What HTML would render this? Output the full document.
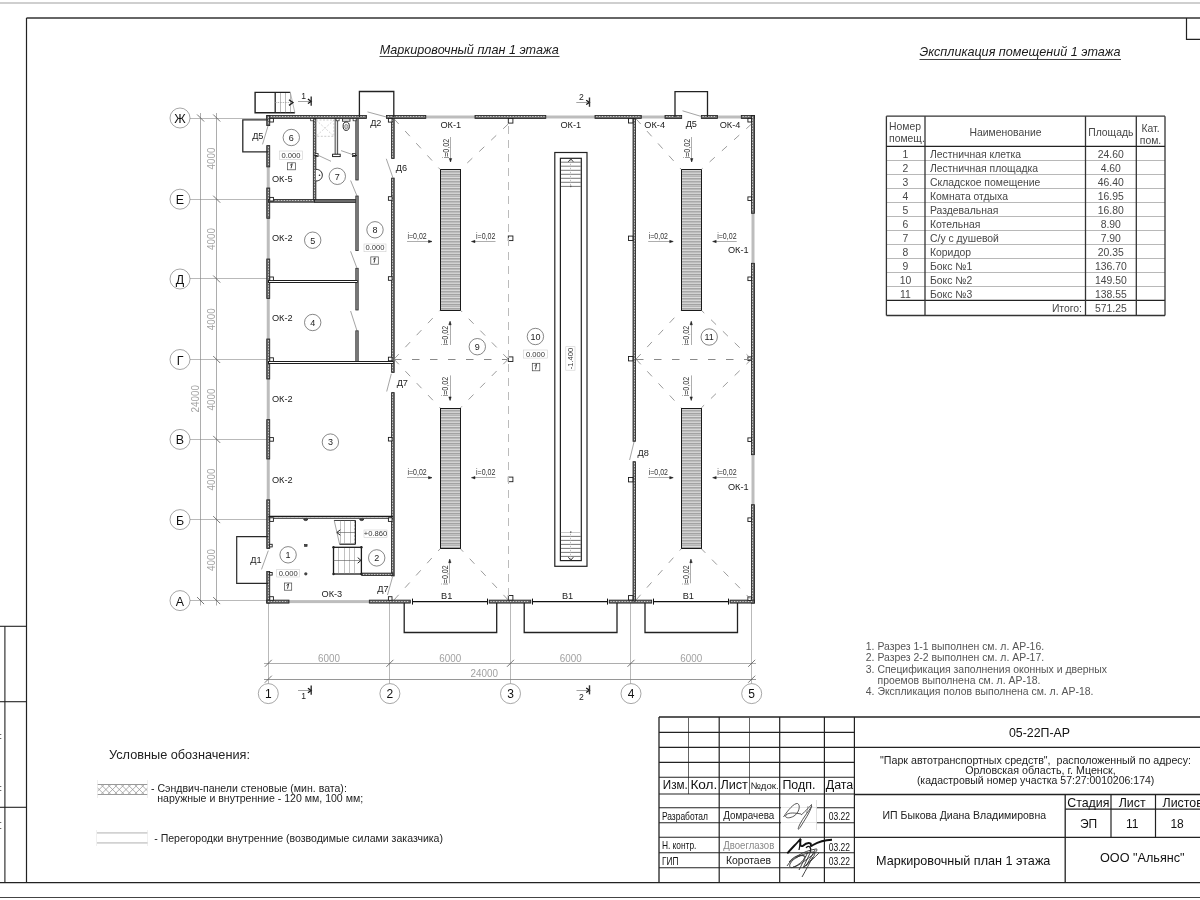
<!DOCTYPE html>
<html><head><meta charset="utf-8"><style>
html,body{margin:0;padding:0;background:#fff;width:1200px;height:900px;overflow:hidden}
svg{display:block;filter:grayscale(1)}
text{font-family:"Liberation Sans",sans-serif}
</style></head><body>
<svg width="1200" height="900" viewBox="0 0 1200 900">
<line x1="0" y1="3" x2="1200" y2="3" stroke="#a0a0a0" stroke-width="1.2" />
<line x1="26.5" y1="18" x2="1200" y2="18" stroke="#333" stroke-width="1.3" />
<line x1="26.5" y1="18" x2="26.5" y2="883" stroke="#222" stroke-width="1.2" />
<line x1="0" y1="882.7" x2="1200" y2="882.7" stroke="#222" stroke-width="1.3" />
<line x1="0" y1="897.5" x2="1200" y2="897.5" stroke="#444" stroke-width="1" />
<path d="M1186.5 18 V39.3 H1200" stroke="#222" stroke-width="1.2" fill="none" />
<line x1="0" y1="626.3" x2="26.5" y2="626.3" stroke="#222" stroke-width="1.1" />
<line x1="0" y1="701.7" x2="26.5" y2="701.7" stroke="#222" stroke-width="1.1" />
<line x1="0" y1="807.3" x2="26.5" y2="807.3" stroke="#222" stroke-width="1.1" />
<line x1="4.9" y1="626.3" x2="4.9" y2="883" stroke="#222" stroke-width="1.1" />
<line x1="0" y1="734.5" x2="1.3" y2="734.5" stroke="#444" stroke-width="0.8" />
<line x1="0" y1="738.5" x2="1.3" y2="738.5" stroke="#444" stroke-width="0.8" />
<line x1="0" y1="786.5" x2="1.3" y2="786.5" stroke="#444" stroke-width="0.8" />
<line x1="0" y1="790.5" x2="1.3" y2="790.5" stroke="#444" stroke-width="0.8" />
<line x1="0" y1="822.5" x2="1.3" y2="822.5" stroke="#444" stroke-width="0.8" />
<line x1="0" y1="828.5" x2="1.3" y2="828.5" stroke="#444" stroke-width="0.8" />
<g font-style="italic">
<text x="379.7" y="54" font-size="12.6" fill="#1a1a1a" text-anchor="start" textLength="179" lengthAdjust="spacingAndGlyphs" >Маркировочный план 1 этажа</text>
<text x="919.5" y="56.3" font-size="12.6" fill="#1a1a1a" text-anchor="start" textLength="201" lengthAdjust="spacingAndGlyphs" >Экспликация помещений 1 этажа</text>
</g>
<line x1="379.5" y1="56.5" x2="559.5" y2="56.5" stroke="#444" stroke-width="1" />
<line x1="919.5" y1="59.5" x2="1121" y2="59.5" stroke="#444" stroke-width="1" />
<line x1="886.4" y1="160.5" x2="1165" y2="160.5" stroke="#999" stroke-width="0.7" />
<line x1="886.4" y1="174.5" x2="1165" y2="174.5" stroke="#999" stroke-width="0.7" />
<line x1="886.4" y1="188.5" x2="1165" y2="188.5" stroke="#999" stroke-width="0.7" />
<line x1="886.4" y1="202.5" x2="1165" y2="202.5" stroke="#999" stroke-width="0.7" />
<line x1="886.4" y1="216.5" x2="1165" y2="216.5" stroke="#999" stroke-width="0.7" />
<line x1="886.4" y1="230.5" x2="1165" y2="230.5" stroke="#999" stroke-width="0.7" />
<line x1="886.4" y1="244.5" x2="1165" y2="244.5" stroke="#999" stroke-width="0.7" />
<line x1="886.4" y1="258.5" x2="1165" y2="258.5" stroke="#999" stroke-width="0.7" />
<line x1="886.4" y1="272.5" x2="1165" y2="272.5" stroke="#999" stroke-width="0.7" />
<line x1="886.4" y1="286.5" x2="1165" y2="286.5" stroke="#999" stroke-width="0.7" />
<line x1="886.4" y1="300.4" x2="1165" y2="300.4" stroke="#222" stroke-width="1.3" />
<line x1="886.4" y1="116.2" x2="886.4" y2="315.5" stroke="#333" stroke-width="1.3" />
<line x1="925" y1="116.2" x2="925" y2="315.5" stroke="#333" stroke-width="1.3" />
<line x1="1085.5" y1="116.2" x2="1085.5" y2="315.5" stroke="#333" stroke-width="1.3" />
<line x1="1136.3" y1="116.2" x2="1136.3" y2="315.5" stroke="#333" stroke-width="1.3" />
<line x1="1165" y1="116.2" x2="1165" y2="315.5" stroke="#333" stroke-width="1.3" />
<line x1="886.4" y1="116.2" x2="1165" y2="116.2" stroke="#333" stroke-width="1.3" />
<line x1="886.4" y1="146.4" x2="1165" y2="146.4" stroke="#222" stroke-width="1.4" />
<line x1="886.4" y1="315.5" x2="1165" y2="315.5" stroke="#333" stroke-width="1.3" />
<text x="889" y="130" font-size="10.4" fill="#474747" text-anchor="start" >Номер</text>
<text x="889" y="141.6" font-size="10.4" fill="#474747" text-anchor="start" >помещ.</text>
<text x="1005.5" y="135.5" font-size="10.4" fill="#474747" text-anchor="middle" >Наименование</text>
<text x="1110.8" y="135.6" font-size="10.4" fill="#474747" text-anchor="middle" >Площадь</text>
<text x="1150.5" y="132.3" font-size="10.4" fill="#474747" text-anchor="middle" >Кат.</text>
<text x="1150.5" y="143.5" font-size="10.4" fill="#474747" text-anchor="middle" >пом.</text>
<text x="905.5" y="157.9" font-size="10.4" fill="#474747" text-anchor="middle" >1</text>
<text x="930" y="157.9" font-size="10.4" fill="#474747" text-anchor="start" >Лестничная клетка</text>
<text x="1110.8" y="157.9" font-size="10.4" fill="#474747" text-anchor="middle" >24.60</text>
<text x="905.5" y="171.9" font-size="10.4" fill="#474747" text-anchor="middle" >2</text>
<text x="930" y="171.9" font-size="10.4" fill="#474747" text-anchor="start" >Лестничная площадка</text>
<text x="1110.8" y="171.9" font-size="10.4" fill="#474747" text-anchor="middle" >4.60</text>
<text x="905.5" y="185.9" font-size="10.4" fill="#474747" text-anchor="middle" >3</text>
<text x="930" y="185.9" font-size="10.4" fill="#474747" text-anchor="start" >Складское помещение</text>
<text x="1110.8" y="185.9" font-size="10.4" fill="#474747" text-anchor="middle" >46.40</text>
<text x="905.5" y="199.9" font-size="10.4" fill="#474747" text-anchor="middle" >4</text>
<text x="930" y="199.9" font-size="10.4" fill="#474747" text-anchor="start" >Комната отдыха</text>
<text x="1110.8" y="199.9" font-size="10.4" fill="#474747" text-anchor="middle" >16.95</text>
<text x="905.5" y="213.9" font-size="10.4" fill="#474747" text-anchor="middle" >5</text>
<text x="930" y="213.9" font-size="10.4" fill="#474747" text-anchor="start" >Раздевальная</text>
<text x="1110.8" y="213.9" font-size="10.4" fill="#474747" text-anchor="middle" >16.80</text>
<text x="905.5" y="227.9" font-size="10.4" fill="#474747" text-anchor="middle" >6</text>
<text x="930" y="227.9" font-size="10.4" fill="#474747" text-anchor="start" >Котельная</text>
<text x="1110.8" y="227.9" font-size="10.4" fill="#474747" text-anchor="middle" >8.90</text>
<text x="905.5" y="241.9" font-size="10.4" fill="#474747" text-anchor="middle" >7</text>
<text x="930" y="241.9" font-size="10.4" fill="#474747" text-anchor="start" >С/у с душевой</text>
<text x="1110.8" y="241.9" font-size="10.4" fill="#474747" text-anchor="middle" >7.90</text>
<text x="905.5" y="255.9" font-size="10.4" fill="#474747" text-anchor="middle" >8</text>
<text x="930" y="255.9" font-size="10.4" fill="#474747" text-anchor="start" >Коридор</text>
<text x="1110.8" y="255.9" font-size="10.4" fill="#474747" text-anchor="middle" >20.35</text>
<text x="905.5" y="269.9" font-size="10.4" fill="#474747" text-anchor="middle" >9</text>
<text x="930" y="269.9" font-size="10.4" fill="#474747" text-anchor="start" >Бокс №1</text>
<text x="1110.8" y="269.9" font-size="10.4" fill="#474747" text-anchor="middle" >136.70</text>
<text x="905.5" y="283.9" font-size="10.4" fill="#474747" text-anchor="middle" >10</text>
<text x="930" y="283.9" font-size="10.4" fill="#474747" text-anchor="start" >Бокс №2</text>
<text x="1110.8" y="283.9" font-size="10.4" fill="#474747" text-anchor="middle" >149.50</text>
<text x="905.5" y="297.9" font-size="10.4" fill="#474747" text-anchor="middle" >11</text>
<text x="930" y="297.9" font-size="10.4" fill="#474747" text-anchor="start" >Бокс №3</text>
<text x="1110.8" y="297.9" font-size="10.4" fill="#474747" text-anchor="middle" >138.55</text>
<text x="1082" y="311.5" font-size="10.4" fill="#474747" text-anchor="end" >Итого:</text>
<text x="1110.8" y="311.5" font-size="10.4" fill="#474747" text-anchor="middle" >571.25</text>
<text x="865.8" y="650.3" font-size="10.45" fill="#555" text-anchor="start" >1. Разрез 1-1 выполнен см. л. АР-16.</text>
<text x="865.8" y="661.2" font-size="10.45" fill="#555" text-anchor="start" >2. Разрез 2-2 выполнен см. л. АР-17.</text>
<text x="865.8" y="672.8" font-size="10.45" fill="#555" text-anchor="start" >3. Спецификация заполнения оконных и дверных</text>
<text x="877.5" y="684" font-size="10.45" fill="#555" text-anchor="start" >проемов выполнена см. л. АР-18.</text>
<text x="865.8" y="695" font-size="10.45" fill="#555" text-anchor="start" >4. Экспликация полов выполнена см. л. АР-18.</text>
<text x="109" y="759" font-size="12.73" fill="#222" text-anchor="start" >Условные обозначения:</text>
<defs><clipPath id="sw"><rect x="97.5" y="784.5" width="50" height="10"/></clipPath></defs>
<path d="M87.50 784.5 L97.50 794.5 M97.50 784.5 L87.50 794.5 M94.20 784.5 L104.20 794.5 M104.20 784.5 L94.20 794.5 M100.90 784.5 L110.90 794.5 M110.90 784.5 L100.90 794.5 M107.60 784.5 L117.60 794.5 M117.60 784.5 L107.60 794.5 M114.30 784.5 L124.30 794.5 M124.30 784.5 L114.30 794.5 M121.00 784.5 L131.00 794.5 M131.00 784.5 L121.00 794.5 M127.70 784.5 L137.70 794.5 M137.70 784.5 L127.70 794.5 M134.40 784.5 L144.40 794.5 M144.40 784.5 L134.40 794.5 M141.10 784.5 L151.10 794.5 M151.10 784.5 L141.10 794.5 M147.80 784.5 L157.80 794.5 M157.80 784.5 L147.80 794.5 " stroke="#8a8a8a" stroke-width="0.7" fill="none" clip-path="url(#sw)"/>
<line x1="97.5" y1="784.5" x2="147.5" y2="784.5" stroke="#999" stroke-width="1" />
<line x1="97.5" y1="794.5" x2="147.5" y2="794.5" stroke="#999" stroke-width="1" />
<line x1="97.5" y1="780" x2="97.5" y2="798" stroke="#e2e2e2" stroke-width="0.6" />
<line x1="147.5" y1="780" x2="147.5" y2="798" stroke="#e2e2e2" stroke-width="0.6" />
<text x="151" y="791.5" font-size="10.55" fill="#222" text-anchor="start" >- Сэндвич-панели стеновые (мин. вата):</text>
<text x="157.3" y="801.6" font-size="10.55" fill="#222" text-anchor="start" >наружные и внутренние - 120 мм, 100 мм;</text>
<line x1="97" y1="832.9" x2="147.6" y2="832.9" stroke="#d2d2d2" stroke-width="1.8" />
<line x1="96.5" y1="830" x2="96.5" y2="846" stroke="#e6e6e6" stroke-width="0.6" />
<line x1="147.5" y1="830" x2="147.5" y2="846" stroke="#e6e6e6" stroke-width="0.6" />
<line x1="97" y1="842.9" x2="147.6" y2="842.9" stroke="#d2d2d2" stroke-width="1.8" />
<text x="154.2" y="841.5" font-size="10.55" fill="#222" text-anchor="start" >- Перегородки внутренние (возводимые силами заказчика)</text>
<line x1="659" y1="717" x2="1200" y2="717" stroke="#222" stroke-width="1.3" />
<line x1="659" y1="717" x2="659" y2="882.7" stroke="#222" stroke-width="1.3" />
<line x1="719.2" y1="717" x2="719.2" y2="882.7" stroke="#222" stroke-width="1.2" />
<line x1="779.7" y1="717" x2="779.7" y2="882.7" stroke="#222" stroke-width="1.2" />
<line x1="824.4" y1="717" x2="824.4" y2="882.7" stroke="#222" stroke-width="1.2" />
<line x1="854.4" y1="717" x2="854.4" y2="882.7" stroke="#222" stroke-width="1.2" />
<line x1="688.5" y1="717" x2="688.5" y2="794" stroke="#555" stroke-width="0.9" />
<line x1="749.5" y1="717" x2="749.5" y2="794" stroke="#555" stroke-width="0.9" />
<line x1="659" y1="732.4" x2="854.4" y2="732.4" stroke="#222" stroke-width="1.1" />
<line x1="659" y1="747.4" x2="854.4" y2="747.4" stroke="#222" stroke-width="1.1" />
<line x1="659" y1="762.4" x2="854.4" y2="762.4" stroke="#222" stroke-width="1.1" />
<line x1="659" y1="777.3" x2="854.4" y2="777.3" stroke="#222" stroke-width="1.1" />
<line x1="659" y1="794" x2="854.4" y2="794" stroke="#222" stroke-width="1.1" />
<line x1="659" y1="837.3" x2="854.4" y2="837.3" stroke="#222" stroke-width="1.1" />
<line x1="659" y1="852.7" x2="854.4" y2="852.7" stroke="#222" stroke-width="1.1" />
<line x1="659" y1="867.7" x2="854.4" y2="867.7" stroke="#222" stroke-width="1.1" />
<line x1="659" y1="807.7" x2="781" y2="807.7" stroke="#222" stroke-width="1.1" />
<line x1="816.5" y1="807.7" x2="854.4" y2="807.7" stroke="#222" stroke-width="1.1" />
<line x1="659" y1="822.7" x2="781" y2="822.7" stroke="#222" stroke-width="1.1" />
<line x1="816.5" y1="822.7" x2="854.4" y2="822.7" stroke="#222" stroke-width="1.1" />
<line x1="854.4" y1="747.3" x2="1200" y2="747.3" stroke="#222" stroke-width="1.3" />
<line x1="854.4" y1="794.5" x2="1200" y2="794.5" stroke="#222" stroke-width="1.3" />
<line x1="854.4" y1="837.4" x2="1200" y2="837.4" stroke="#222" stroke-width="1.3" />
<line x1="1065.2" y1="794.5" x2="1065.2" y2="882.7" stroke="#222" stroke-width="1.3" />
<line x1="1065.2" y1="809.1" x2="1200" y2="809.1" stroke="#222" stroke-width="1.2" />
<line x1="1111" y1="794.5" x2="1111" y2="837.4" stroke="#222" stroke-width="1.2" />
<line x1="1155.5" y1="794.5" x2="1155.5" y2="837.4" stroke="#222" stroke-width="1.2" />
<text x="662.8" y="788.8" font-size="12" fill="#111" text-anchor="start" textLength="25" lengthAdjust="spacingAndGlyphs" >Изм.</text>
<text x="690.4" y="788.8" font-size="12" fill="#111" text-anchor="start" textLength="27" lengthAdjust="spacingAndGlyphs" >Кол.</text>
<text x="720.4" y="788.8" font-size="12" fill="#111" text-anchor="start" textLength="27.5" lengthAdjust="spacingAndGlyphs" >Лист</text>
<text x="750.4" y="789" font-size="9.5" fill="#111" text-anchor="start" textLength="28.3" lengthAdjust="spacingAndGlyphs" >№док.</text>
<text x="782.4" y="788.7" font-size="12" fill="#111" text-anchor="start" textLength="33" lengthAdjust="spacingAndGlyphs" >Подп.</text>
<text x="825.7" y="788.7" font-size="12" fill="#111" text-anchor="start" textLength="27.6" lengthAdjust="spacingAndGlyphs" >Дата</text>
<text x="661.9" y="819.5" font-size="10.8" fill="#111" text-anchor="start" textLength="46" lengthAdjust="spacingAndGlyphs" >Разработал</text>
<text x="723.3" y="819" font-size="10" fill="#222" text-anchor="start" textLength="51" lengthAdjust="spacingAndGlyphs" >Домрачева</text>
<text x="661.9" y="848.8" font-size="10.8" fill="#111" text-anchor="start" textLength="34.5" lengthAdjust="spacingAndGlyphs" >Н. контр.</text>
<text x="723.3" y="848.7" font-size="10" fill="#888" text-anchor="start" textLength="51" lengthAdjust="spacingAndGlyphs" >Двоеглазов</text>
<text x="661.9" y="864.7" font-size="10.8" fill="#111" text-anchor="start" textLength="16.5" lengthAdjust="spacingAndGlyphs" >ГИП</text>
<text x="726" y="864.2" font-size="10.5" fill="#222" text-anchor="start" textLength="45" lengthAdjust="spacingAndGlyphs" >Коротаев</text>
<text x="828.7" y="820.4" font-size="10.4" fill="#111" text-anchor="start" textLength="21.3" lengthAdjust="spacingAndGlyphs" >03.22</text>
<text x="828.7" y="850.7" font-size="10.4" fill="#111" text-anchor="start" textLength="21.3" lengthAdjust="spacingAndGlyphs" >03.22</text>
<text x="828.7" y="865.3" font-size="10.4" fill="#111" text-anchor="start" textLength="21.3" lengthAdjust="spacingAndGlyphs" >03.22</text>
<text x="1039.5" y="736.8" font-size="12.35" fill="#111" text-anchor="middle" >05-22П-АР</text>
<text x="1035.5" y="764" font-size="10.66" fill="#222" text-anchor="middle" >"Парк автотранспортных средств",&#160; расположенный по адресу:</text>
<text x="1040.5" y="774.1" font-size="10.7" fill="#222" text-anchor="middle" >Орловская область, г. Мценск,</text>
<text x="1035.6" y="784.3" font-size="10.5" fill="#222" text-anchor="middle" >(кадастровый номер участка 57:27:0010206:174)</text>
<text x="964.3" y="819.3" font-size="10.5" fill="#222" text-anchor="middle" >ИП Быкова Диана Владимировна</text>
<text x="1067.2" y="807" font-size="12.4" fill="#111" text-anchor="start" >Стадия</text>
<text x="1132.2" y="807" font-size="12.4" fill="#111" text-anchor="middle" >Лист</text>
<text x="1162.5" y="807" font-size="12.4" fill="#111" text-anchor="start" >Листов</text>
<text x="1088.5" y="827.5" font-size="12" fill="#111" text-anchor="middle" >ЭП</text>
<text x="1132.2" y="827.5" font-size="12" fill="#111" text-anchor="middle" >11</text>
<text x="1177.1" y="827.5" font-size="12" fill="#111" text-anchor="middle" >18</text>
<text x="963.2" y="864.5" font-size="12.64" fill="#111" text-anchor="middle" >Маркировочный план 1 этажа</text>
<text x="1142.3" y="862.2" font-size="12.67" fill="#111" text-anchor="middle" >ООО "Альянс"</text>
<line x1="781" y1="807.5" x2="816.5" y2="807.5" stroke="#e0e0e0" stroke-width="0.8" />
<line x1="781" y1="822.5" x2="816.5" y2="822.5" stroke="#e0e0e0" stroke-width="0.8" />
<line x1="816.5" y1="800" x2="816.5" y2="830" stroke="#d8d8d8" stroke-width="0.8" />
<path d="M783.5 817 C 788 810, 794 803, 797.5 803.5 C 801 805, 799 813, 794 816 C 789 819, 784 818, 786 815 C 789 812, 796 813, 801 814" stroke="#444" stroke-width="0.9" fill="none" />
<path d="M801 815 C 806 811, 810 806, 811.5 804.5 C 812 809, 806 818, 801 826 C 798 831, 797 830, 800 824 C 803 818, 808 812, 812 806" stroke="#444" stroke-width="0.9" fill="none" />
<path d="M808 806 L 806.5 813" stroke="#666" stroke-width="0.6" fill="none" />
<path d="M787.3 853.3 C 792 848, 797 843, 800 839.5 C 801 843, 799 847, 802.7 846 C 806 843, 808 842, 810.7 843.5 C 811 846, 810 847, 813 845 C 818 842, 826 840, 832 839.8" stroke="#111" stroke-width="1.9" fill="none" />
<path d="M801 839 L 799 850 M 806 848 C 809 844, 812 848, 810 852" stroke="#111" stroke-width="1.2" fill="none" />
<path d="M787 866 C 792 858, 803 851, 816 849 C 820 849, 812 856, 803 862 C 795 868, 788 870, 790 864 C 793 857, 806 853, 813 852 C 818 852, 812 860, 805 866 C 800 871, 810 862, 819 853 M 813 857 C 810 862, 806 870, 802 877 M 796 858 C 800 855, 804 855, 806 857 M789 862 C 794 856, 800 854, 804 856 C 807 858, 798 866, 793 867 M 808 852 L 799 870 M 811 851 L 803 868 M 815 850 L 806 866" stroke="#333" stroke-width="0.9" fill="none" />
<line x1="190" y1="118.5" x2="268" y2="118.5" stroke="#8a8a8a" stroke-width="0.6" />
<circle cx="180" cy="118.0" r="10" stroke="#777" stroke-width="0.65" fill="none"/>
<text x="180" y="123.0" font-size="12.4" fill="#111" text-anchor="middle" >Ж</text>
<line x1="190" y1="199.5" x2="268" y2="199.5" stroke="#8a8a8a" stroke-width="0.6" />
<circle cx="180" cy="199.2" r="10" stroke="#777" stroke-width="0.65" fill="none"/>
<text x="180" y="204.2" font-size="12.4" fill="#111" text-anchor="middle" >Е</text>
<line x1="190" y1="278.5" x2="268" y2="278.5" stroke="#8a8a8a" stroke-width="0.6" />
<circle cx="180" cy="279.0" r="10" stroke="#777" stroke-width="0.65" fill="none"/>
<text x="180" y="284.0" font-size="12.4" fill="#111" text-anchor="middle" >Д</text>
<line x1="190" y1="359.5" x2="268" y2="359.5" stroke="#8a8a8a" stroke-width="0.6" />
<circle cx="180" cy="359.5" r="10" stroke="#777" stroke-width="0.65" fill="none"/>
<text x="180" y="364.5" font-size="12.4" fill="#111" text-anchor="middle" >Г</text>
<line x1="190" y1="439.5" x2="268" y2="439.5" stroke="#8a8a8a" stroke-width="0.6" />
<circle cx="180" cy="439.4" r="10" stroke="#777" stroke-width="0.65" fill="none"/>
<text x="180" y="444.4" font-size="12.4" fill="#111" text-anchor="middle" >В</text>
<line x1="190" y1="519.5" x2="268" y2="519.5" stroke="#8a8a8a" stroke-width="0.6" />
<circle cx="180" cy="519.6" r="10" stroke="#777" stroke-width="0.65" fill="none"/>
<text x="180" y="524.6" font-size="12.4" fill="#111" text-anchor="middle" >Б</text>
<line x1="190" y1="600.5" x2="268" y2="600.5" stroke="#8a8a8a" stroke-width="0.6" />
<circle cx="180" cy="600.6" r="10" stroke="#777" stroke-width="0.65" fill="none"/>
<text x="180" y="605.6" font-size="12.4" fill="#111" text-anchor="middle" >А</text>
<line x1="200.5" y1="113" x2="200.5" y2="605.5" stroke="#8a8a8a" stroke-width="0.7" />
<line x1="216.5" y1="113" x2="216.5" y2="605.5" stroke="#8a8a8a" stroke-width="0.7" />
<line x1="213.2" y1="114.5" x2="220.2" y2="121.5" stroke="#555" stroke-width="0.8" />
<line x1="213.2" y1="195.7" x2="220.2" y2="202.7" stroke="#555" stroke-width="0.8" />
<line x1="213.2" y1="275.5" x2="220.2" y2="282.5" stroke="#555" stroke-width="0.8" />
<line x1="213.2" y1="356.0" x2="220.2" y2="363.0" stroke="#555" stroke-width="0.8" />
<line x1="213.2" y1="435.9" x2="220.2" y2="442.9" stroke="#555" stroke-width="0.8" />
<line x1="213.2" y1="516.1" x2="220.2" y2="523.1" stroke="#555" stroke-width="0.8" />
<line x1="213.2" y1="597.1" x2="220.2" y2="604.1" stroke="#555" stroke-width="0.8" />
<line x1="197.1" y1="114.5" x2="204.1" y2="121.5" stroke="#555" stroke-width="0.8" />
<line x1="197.1" y1="597.1" x2="204.1" y2="604.1" stroke="#555" stroke-width="0.8" />
<text x="0" y="0" font-size="10.5" fill="#a2a2a2" text-anchor="middle" textLength="22" lengthAdjust="spacingAndGlyphs" transform="translate(215.2 158.6) rotate(-90)">4000</text>
<text x="0" y="0" font-size="10.5" fill="#a2a2a2" text-anchor="middle" textLength="22" lengthAdjust="spacingAndGlyphs" transform="translate(215.2 239.1) rotate(-90)">4000</text>
<text x="0" y="0" font-size="10.5" fill="#a2a2a2" text-anchor="middle" textLength="22" lengthAdjust="spacingAndGlyphs" transform="translate(215.2 319.2) rotate(-90)">4000</text>
<text x="0" y="0" font-size="10.5" fill="#a2a2a2" text-anchor="middle" textLength="22" lengthAdjust="spacingAndGlyphs" transform="translate(215.2 399.4) rotate(-90)">4000</text>
<text x="0" y="0" font-size="10.5" fill="#a2a2a2" text-anchor="middle" textLength="22" lengthAdjust="spacingAndGlyphs" transform="translate(215.2 479.5) rotate(-90)">4000</text>
<text x="0" y="0" font-size="10.5" fill="#a2a2a2" text-anchor="middle" textLength="22" lengthAdjust="spacingAndGlyphs" transform="translate(215.2 560.1) rotate(-90)">4000</text>
<text x="0" y="0" font-size="10.5" fill="#a2a2a2" text-anchor="middle" textLength="27.5" lengthAdjust="spacingAndGlyphs" transform="translate(199.1 398.8) rotate(-90)">24000</text>
<line x1="268.5" y1="603" x2="268.5" y2="683.5" stroke="#8a8a8a" stroke-width="0.6" />
<circle cx="268.3" cy="693.6" r="10" stroke="#777" stroke-width="0.65" fill="none"/>
<text x="268.3" y="698.4" font-size="12" fill="#111" text-anchor="middle" >1</text>
<line x1="389.5" y1="603" x2="389.5" y2="683.5" stroke="#8a8a8a" stroke-width="0.6" />
<circle cx="389.9" cy="693.6" r="10" stroke="#777" stroke-width="0.65" fill="none"/>
<text x="389.9" y="698.4" font-size="12" fill="#111" text-anchor="middle" >2</text>
<line x1="510.5" y1="603" x2="510.5" y2="683.5" stroke="#8a8a8a" stroke-width="0.6" />
<circle cx="510.5" cy="693.6" r="10" stroke="#777" stroke-width="0.65" fill="none"/>
<text x="510.5" y="698.4" font-size="12" fill="#111" text-anchor="middle" >3</text>
<line x1="630.5" y1="603" x2="630.5" y2="683.5" stroke="#8a8a8a" stroke-width="0.6" />
<circle cx="631.0" cy="693.6" r="10" stroke="#777" stroke-width="0.65" fill="none"/>
<text x="631.0" y="698.4" font-size="12" fill="#111" text-anchor="middle" >4</text>
<line x1="751.5" y1="603" x2="751.5" y2="683.5" stroke="#8a8a8a" stroke-width="0.6" />
<circle cx="751.7" cy="693.6" r="10" stroke="#777" stroke-width="0.65" fill="none"/>
<text x="751.7" y="698.4" font-size="12" fill="#111" text-anchor="middle" >5</text>
<line x1="264" y1="663.5" x2="756" y2="663.5" stroke="#8a8a8a" stroke-width="0.7" />
<line x1="264" y1="679.5" x2="756" y2="679.5" stroke="#8a8a8a" stroke-width="0.9" />
<line x1="264.8" y1="666.8" x2="271.8" y2="659.8" stroke="#555" stroke-width="0.8" />
<line x1="386.4" y1="666.8" x2="393.4" y2="659.8" stroke="#555" stroke-width="0.8" />
<line x1="507.0" y1="666.8" x2="514.0" y2="659.8" stroke="#555" stroke-width="0.8" />
<line x1="627.5" y1="666.8" x2="634.5" y2="659.8" stroke="#555" stroke-width="0.8" />
<line x1="748.2" y1="666.8" x2="755.2" y2="659.8" stroke="#555" stroke-width="0.8" />
<line x1="264.8" y1="682.7" x2="271.8" y2="675.7" stroke="#555" stroke-width="0.8" />
<line x1="748.2" y1="682.7" x2="755.2" y2="675.7" stroke="#555" stroke-width="0.8" />
<text x="329.1" y="661.7" font-size="10.5" fill="#a2a2a2" text-anchor="middle" textLength="22" lengthAdjust="spacingAndGlyphs" >6000</text>
<text x="450.2" y="661.7" font-size="10.5" fill="#a2a2a2" text-anchor="middle" textLength="22" lengthAdjust="spacingAndGlyphs" >6000</text>
<text x="570.75" y="661.7" font-size="10.5" fill="#a2a2a2" text-anchor="middle" textLength="22" lengthAdjust="spacingAndGlyphs" >6000</text>
<text x="691.35" y="661.7" font-size="10.5" fill="#a2a2a2" text-anchor="middle" textLength="22" lengthAdjust="spacingAndGlyphs" >6000</text>
<text x="484.2" y="677.3" font-size="10.5" fill="#a2a2a2" text-anchor="middle" textLength="27.5" lengthAdjust="spacingAndGlyphs" >24000</text>
<line x1="298" y1="101.5" x2="311.2" y2="101.5" stroke="#999" stroke-width="0.9" />
<path d="M307.9 99.10000000000001 L311.2 101.4 L307.9 103.5" stroke="#111" stroke-width="1.2" fill="none" />
<line x1="311.2" y1="96.4" x2="311.2" y2="105.7" stroke="#333" stroke-width="1.4" />
<text x="303.7" y="99" font-size="8.6" fill="#222" text-anchor="middle" >1</text>
<line x1="576.3" y1="102.5" x2="589.5" y2="102.5" stroke="#999" stroke-width="0.9" />
<path d="M586.2 100.2 L589.5 102.5 L586.2 104.6" stroke="#111" stroke-width="1.2" fill="none" />
<line x1="589.5" y1="97.5" x2="589.5" y2="106.8" stroke="#333" stroke-width="1.4" />
<text x="581.5" y="99.7" font-size="8.6" fill="#222" text-anchor="middle" >2</text>
<line x1="298" y1="690.5" x2="311.2" y2="690.5" stroke="#999" stroke-width="0.9" />
<path d="M307.9 688.3000000000001 L311.2 690.6 L307.9 692.7" stroke="#111" stroke-width="1.2" fill="none" />
<line x1="311.2" y1="685.6" x2="311.2" y2="694.7" stroke="#333" stroke-width="1.4" />
<text x="303.7" y="699" font-size="8.6" fill="#222" text-anchor="middle" >1</text>
<line x1="576.5" y1="690.5" x2="589.5" y2="690.5" stroke="#999" stroke-width="0.9" />
<path d="M586.2 688.0 L589.5 690.3 L586.2 692.4" stroke="#111" stroke-width="1.2" fill="none" />
<line x1="589.5" y1="685.3" x2="589.5" y2="694.4" stroke="#333" stroke-width="1.4" />
<text x="581.5" y="699.5" font-size="8.6" fill="#222" text-anchor="middle" >2</text>
<rect x="425.8" y="115.5" width="49.19999999999999" height="3" stroke="none" stroke-width="0" fill="#bdbdbd" />
<rect x="545.8" y="115.5" width="49.200000000000045" height="3" stroke="none" stroke-width="0" fill="#bdbdbd" />
<rect x="641.3" y="115.5" width="23.700000000000045" height="3" stroke="none" stroke-width="0" fill="#bdbdbd" />
<rect x="717.5" y="115.5" width="23.799999999999955" height="3" stroke="none" stroke-width="0" fill="#bdbdbd" />
<rect x="266.75" y="166.9" width="3" height="21.099999999999994" stroke="none" stroke-width="0" fill="#bdbdbd" />
<rect x="266.75" y="218.3" width="3" height="40.69999999999999" stroke="none" stroke-width="0" fill="#bdbdbd" />
<rect x="266.75" y="298.5" width="3" height="40.5" stroke="none" stroke-width="0" fill="#bdbdbd" />
<rect x="266.75" y="379" width="3" height="40.60000000000002" stroke="none" stroke-width="0" fill="#bdbdbd" />
<rect x="266.75" y="459" width="3" height="40.80000000000001" stroke="none" stroke-width="0" fill="#bdbdbd" />
<rect x="751.5" y="213.3" width="3" height="50.0" stroke="none" stroke-width="0" fill="#bdbdbd" />
<rect x="751.5" y="454.7" width="3" height="50.0" stroke="none" stroke-width="0" fill="#bdbdbd" />
<rect x="289" y="600.1" width="80.39999999999998" height="3" stroke="none" stroke-width="0" fill="#bdbdbd" />
<rect x="266.8" y="115.5" width="99.69999999999999" height="3.0" stroke="#1e1e1e" stroke-width="0.8" fill="#6a6a6a" />
<line x1="268.0" y1="116.5" x2="365.3" y2="116.5" stroke="#e8e8e8" stroke-width="0.8" stroke-dasharray="1.3 1.5"/>
<rect x="386.5" y="115.5" width="39.30000000000001" height="3.0" stroke="#1e1e1e" stroke-width="0.8" fill="#6a6a6a" />
<line x1="387.7" y1="116.5" x2="424.6" y2="116.5" stroke="#e8e8e8" stroke-width="0.8" stroke-dasharray="1.3 1.5"/>
<rect x="475" y="115.5" width="70.79999999999995" height="3.0" stroke="#1e1e1e" stroke-width="0.8" fill="#6a6a6a" />
<line x1="476.2" y1="116.5" x2="544.5999999999999" y2="116.5" stroke="#e8e8e8" stroke-width="0.8" stroke-dasharray="1.3 1.5"/>
<rect x="595" y="115.5" width="46.299999999999955" height="3.0" stroke="#1e1e1e" stroke-width="0.8" fill="#6a6a6a" />
<line x1="596.2" y1="116.5" x2="640.0999999999999" y2="116.5" stroke="#e8e8e8" stroke-width="0.8" stroke-dasharray="1.3 1.5"/>
<rect x="665" y="115.5" width="16.700000000000045" height="3.0" stroke="#1e1e1e" stroke-width="0.8" fill="#6a6a6a" />
<line x1="666.2" y1="116.5" x2="680.5" y2="116.5" stroke="#e8e8e8" stroke-width="0.8" stroke-dasharray="1.3 1.5"/>
<rect x="701.3" y="115.5" width="16.200000000000045" height="3.0" stroke="#1e1e1e" stroke-width="0.8" fill="#6a6a6a" />
<line x1="702.5" y1="116.5" x2="716.3" y2="116.5" stroke="#e8e8e8" stroke-width="0.8" stroke-dasharray="1.3 1.5"/>
<rect x="741.3" y="115.5" width="13.200000000000045" height="3.0" stroke="#1e1e1e" stroke-width="0.8" fill="#6a6a6a" />
<line x1="742.5" y1="116.5" x2="753.3" y2="116.5" stroke="#e8e8e8" stroke-width="0.8" stroke-dasharray="1.3 1.5"/>
<rect x="266.75" y="115.5" width="3.0" height="10.099999999999994" stroke="#1e1e1e" stroke-width="0.8" fill="#6a6a6a" />
<line x1="268.5" y1="116.7" x2="268.5" y2="124.39999999999999" stroke="#e8e8e8" stroke-width="0.8" stroke-dasharray="1.3 1.5"/>
<rect x="266.75" y="145.6" width="3.0" height="21.30000000000001" stroke="#1e1e1e" stroke-width="0.8" fill="#6a6a6a" />
<line x1="268.5" y1="146.79999999999998" x2="268.5" y2="165.70000000000002" stroke="#e8e8e8" stroke-width="0.8" stroke-dasharray="1.3 1.5"/>
<rect x="266.75" y="188" width="3.0" height="30.30000000000001" stroke="#1e1e1e" stroke-width="0.8" fill="#6a6a6a" />
<line x1="268.5" y1="189.2" x2="268.5" y2="217.10000000000002" stroke="#e8e8e8" stroke-width="0.8" stroke-dasharray="1.3 1.5"/>
<rect x="266.75" y="259" width="3.0" height="39.5" stroke="#1e1e1e" stroke-width="0.8" fill="#6a6a6a" />
<line x1="268.5" y1="260.2" x2="268.5" y2="297.3" stroke="#e8e8e8" stroke-width="0.8" stroke-dasharray="1.3 1.5"/>
<rect x="266.75" y="339" width="3.0" height="40" stroke="#1e1e1e" stroke-width="0.8" fill="#6a6a6a" />
<line x1="268.5" y1="340.2" x2="268.5" y2="377.8" stroke="#e8e8e8" stroke-width="0.8" stroke-dasharray="1.3 1.5"/>
<rect x="266.75" y="419.6" width="3.0" height="39.39999999999998" stroke="#1e1e1e" stroke-width="0.8" fill="#6a6a6a" />
<line x1="268.5" y1="420.8" x2="268.5" y2="457.8" stroke="#e8e8e8" stroke-width="0.8" stroke-dasharray="1.3 1.5"/>
<rect x="266.75" y="499.8" width="3.0" height="48.69999999999999" stroke="#1e1e1e" stroke-width="0.8" fill="#6a6a6a" />
<line x1="268.5" y1="501.0" x2="268.5" y2="547.3" stroke="#e8e8e8" stroke-width="0.8" stroke-dasharray="1.3 1.5"/>
<rect x="266.75" y="571.5" width="3.0" height="31.600000000000023" stroke="#1e1e1e" stroke-width="0.8" fill="#6a6a6a" />
<line x1="268.5" y1="572.7" x2="268.5" y2="601.9" stroke="#e8e8e8" stroke-width="0.8" stroke-dasharray="1.3 1.5"/>
<rect x="751.5" y="115.5" width="3.0" height="97.80000000000001" stroke="#1e1e1e" stroke-width="0.8" fill="#6a6a6a" />
<line x1="752.5" y1="116.7" x2="752.5" y2="212.10000000000002" stroke="#e8e8e8" stroke-width="0.8" stroke-dasharray="1.3 1.5"/>
<rect x="751.5" y="263.3" width="3.0" height="191.39999999999998" stroke="#1e1e1e" stroke-width="0.8" fill="#6a6a6a" />
<line x1="752.5" y1="264.5" x2="752.5" y2="453.5" stroke="#e8e8e8" stroke-width="0.8" stroke-dasharray="1.3 1.5"/>
<rect x="751.5" y="504.7" width="3.0" height="98.40000000000003" stroke="#1e1e1e" stroke-width="0.8" fill="#6a6a6a" />
<line x1="752.5" y1="505.9" x2="752.5" y2="601.9" stroke="#e8e8e8" stroke-width="0.8" stroke-dasharray="1.3 1.5"/>
<rect x="266.8" y="600.1" width="22.19999999999999" height="3.0" stroke="#1e1e1e" stroke-width="0.8" fill="#6a6a6a" />
<line x1="268.0" y1="601.5" x2="287.8" y2="601.5" stroke="#e8e8e8" stroke-width="0.8" stroke-dasharray="1.3 1.5"/>
<rect x="369.3" y="600.1" width="41.0" height="3.0" stroke="#1e1e1e" stroke-width="0.8" fill="#6a6a6a" />
<line x1="370.5" y1="601.5" x2="409.1" y2="601.5" stroke="#e8e8e8" stroke-width="0.8" stroke-dasharray="1.3 1.5"/>
<rect x="489.2" y="600.1" width="41.599999999999966" height="3.0" stroke="#1e1e1e" stroke-width="0.8" fill="#6a6a6a" />
<line x1="490.4" y1="601.5" x2="529.5999999999999" y2="601.5" stroke="#e8e8e8" stroke-width="0.8" stroke-dasharray="1.3 1.5"/>
<rect x="609.2" y="600.1" width="42.5" height="3.0" stroke="#1e1e1e" stroke-width="0.8" fill="#6a6a6a" />
<line x1="610.4000000000001" y1="601.5" x2="650.5" y2="601.5" stroke="#e8e8e8" stroke-width="0.8" stroke-dasharray="1.3 1.5"/>
<rect x="730" y="600.1" width="24.5" height="3.0" stroke="#1e1e1e" stroke-width="0.8" fill="#6a6a6a" />
<line x1="731.2" y1="601.5" x2="753.3" y2="601.5" stroke="#e8e8e8" stroke-width="0.8" stroke-dasharray="1.3 1.5"/>
<line x1="412.3" y1="601.6" x2="487.2" y2="601.6" stroke="#111" stroke-width="1.4" />
<line x1="412.5" y1="598.6" x2="412.5" y2="604.6" stroke="#111" stroke-width="1.0" />
<line x1="487.5" y1="598.6" x2="487.5" y2="604.6" stroke="#111" stroke-width="1.0" />
<line x1="532.8" y1="601.6" x2="607.2" y2="601.6" stroke="#111" stroke-width="1.4" />
<line x1="532.5" y1="598.6" x2="532.5" y2="604.6" stroke="#111" stroke-width="1.0" />
<line x1="607.5" y1="598.6" x2="607.5" y2="604.6" stroke="#111" stroke-width="1.0" />
<line x1="653.7" y1="601.6" x2="728" y2="601.6" stroke="#111" stroke-width="1.4" />
<line x1="653.5" y1="598.6" x2="653.5" y2="604.6" stroke="#111" stroke-width="1.0" />
<line x1="728.5" y1="598.6" x2="728.5" y2="604.6" stroke="#111" stroke-width="1.0" />
<rect x="313.3" y="118.5" width="2.6" height="82.1" stroke="#1e1e1e" stroke-width="0.8" fill="#6a6a6a" />
<line x1="314.5" y1="119.7" x2="314.5" y2="199.4" stroke="#e8e8e8" stroke-width="0.8" stroke-dasharray="1.3 1.5"/>
<rect x="268.5" y="199.6" width="46.10000000000002" height="2.6" stroke="#1e1e1e" stroke-width="0.8" fill="#6a6a6a" />
<line x1="269.7" y1="200.5" x2="313.40000000000003" y2="200.5" stroke="#e8e8e8" stroke-width="0.8" stroke-dasharray="1.3 1.5"/>
<rect x="314.6" y="199.6" width="42.4" height="2.8" stroke="#222" stroke-width="0.8" fill="#6a6a6a" />
<rect x="391.59999999999997" y="118.5" width="2.6" height="40.0" stroke="#1e1e1e" stroke-width="0.8" fill="#6a6a6a" />
<line x1="392.5" y1="119.7" x2="392.5" y2="157.3" stroke="#e8e8e8" stroke-width="0.8" stroke-dasharray="1.3 1.5"/>
<rect x="391.59999999999997" y="178.1" width="2.6" height="194.29999999999998" stroke="#1e1e1e" stroke-width="0.8" fill="#6a6a6a" />
<line x1="392.5" y1="179.29999999999998" x2="392.5" y2="371.2" stroke="#e8e8e8" stroke-width="0.8" stroke-dasharray="1.3 1.5"/>
<rect x="391.59999999999997" y="392.6" width="2.6" height="183.39999999999998" stroke="#1e1e1e" stroke-width="0.8" fill="#6a6a6a" />
<line x1="392.5" y1="393.8" x2="392.5" y2="574.8" stroke="#e8e8e8" stroke-width="0.8" stroke-dasharray="1.3 1.5"/>
<rect x="633.0" y="118.5" width="2.6" height="322.8" stroke="#1e1e1e" stroke-width="0.8" fill="#6a6a6a" />
<line x1="634.5" y1="119.7" x2="634.5" y2="440.1" stroke="#e8e8e8" stroke-width="0.8" stroke-dasharray="1.3 1.5"/>
<rect x="633.0" y="461.7" width="2.6" height="139.3" stroke="#1e1e1e" stroke-width="0.8" fill="#6a6a6a" />
<line x1="634.5" y1="462.9" x2="634.5" y2="599.8" stroke="#e8e8e8" stroke-width="0.8" stroke-dasharray="1.3 1.5"/>
<rect x="355.8" y="118.5" width="2.4" height="61.5" stroke="#2a2a2a" stroke-width="0.8" fill="#8a8a8a" />
<rect x="355.8" y="196" width="2.4" height="54.599999999999994" stroke="#2a2a2a" stroke-width="0.8" fill="#8a8a8a" />
<rect x="355.8" y="268.3" width="2.4" height="41.69999999999999" stroke="#2a2a2a" stroke-width="0.8" fill="#8a8a8a" />
<rect x="355.8" y="330.8" width="2.4" height="31.19999999999999" stroke="#2a2a2a" stroke-width="0.8" fill="#8a8a8a" />
<rect x="335.1" y="118.5" width="2.6" height="36.5" stroke="#222" stroke-width="0.8" fill="#e0e0e0" />
<rect x="332.6" y="154.2" width="7.6" height="2.4" stroke="#111" stroke-width="0.9" fill="#fff" />
<rect x="268.5" y="280.5" width="88.5" height="2" stroke="#1e1e1e" stroke-width="1" fill="#fff" />
<rect x="268.5" y="361.5" width="124.39999999999998" height="2" stroke="#1e1e1e" stroke-width="1" fill="#fff" />
<line x1="268.5" y1="516.5" x2="392.9" y2="516.5" stroke="#1a1a1a" stroke-width="1.3" />
<line x1="268.5" y1="518.5" x2="392.9" y2="518.5" stroke="#333" stroke-width="0.8" />
<line x1="270" y1="517.5" x2="391" y2="517.5" stroke="#aaa" stroke-width="0.6" stroke-dasharray="1 3"/>
<path d="M303.7 519 A2 1.6 0 0 0 307.7 519 Z" stroke="#222" stroke-width="0.8" fill="#555" />
<path d="M359.7 519 A2 1.6 0 0 0 363.7 519 Z" stroke="#222" stroke-width="0.8" fill="#555" />
<rect x="361.7" y="573.0999999999999" width="31.19999999999999" height="2.4" stroke="#1e1e1e" stroke-width="0.8" fill="#6a6a6a" />
<line x1="362.9" y1="574.5" x2="391.7" y2="574.5" stroke="#e8e8e8" stroke-width="0.8" stroke-dasharray="1.3 1.5"/>
<path d="M334.2 520.4 H355.4 V544.2 H339.6 Z" stroke="#666" stroke-width="0.6" fill="none" />
<line x1="355.4" y1="520.4" x2="355.4" y2="544.2" stroke="#222" stroke-width="1.1" />
<line x1="339.6" y1="544.2" x2="355.4" y2="544.2" stroke="#222" stroke-width="1.1" />
<line x1="334.2" y1="520.5" x2="355.4" y2="520.5" stroke="#333" stroke-width="0.9" />
<line x1="340.5" y1="520.8" x2="340.5" y2="543.8" stroke="#999" stroke-width="0.6" />
<line x1="344.5" y1="520.8" x2="344.5" y2="543.8" stroke="#999" stroke-width="0.6" />
<line x1="350.5" y1="520.8" x2="350.5" y2="543.8" stroke="#999" stroke-width="0.6" />
<line x1="354.5" y1="521" x2="354.5" y2="544" stroke="#888" stroke-width="0.6" stroke-dasharray="2 1.5"/>
<line x1="337" y1="532.5" x2="355" y2="532.5" stroke="#555" stroke-width="0.6" />
<path d="M340.3 529.8 L336.8 532.5 L340.3 535.2" stroke="#222" stroke-width="1.0" fill="none" />
<rect x="333.5" y="547.3" width="27.9" height="26.7" stroke="#1a1a1a" stroke-width="1.3" fill="none" />
<line x1="338.5" y1="548" x2="338.5" y2="573.3" stroke="#999" stroke-width="0.6" />
<line x1="344.5" y1="548" x2="344.5" y2="573.3" stroke="#999" stroke-width="0.6" />
<line x1="349.5" y1="548" x2="349.5" y2="573.3" stroke="#999" stroke-width="0.6" />
<line x1="354.5" y1="548" x2="354.5" y2="573.3" stroke="#999" stroke-width="0.6" />
<line x1="333.5" y1="560.5" x2="361" y2="560.5" stroke="#555" stroke-width="0.6" />
<path d="M357.7 557.6 L361 560.4 L357.7 563.2" stroke="#222" stroke-width="1.0" fill="none" />
<circle cx="333.5" cy="547.3" r="1.2" fill="#222"/>
<circle cx="361.4" cy="547.3" r="1.2" fill="#222"/>
<circle cx="333.5" cy="574" r="1.2" fill="#222"/>
<circle cx="361.4" cy="574" r="1.2" fill="#222"/>
<rect x="304.5" y="544.4" width="2.6" height="2" stroke="#222" stroke-width="0.6" fill="#444" />
<circle cx="305.8" cy="573.8" r="1.6" fill="#444"/>
<rect x="269.59999999999997" y="544.3000000000001" width="2.6" height="2.6" stroke="#1a1a1a" stroke-width="0.9" fill="#fff" />
<rect x="269.59999999999997" y="572.5" width="2.6" height="2.6" stroke="#1a1a1a" stroke-width="0.9" fill="#fff" />
<rect x="316" y="120" width="18" height="16.3" stroke="#aaa" stroke-width="0.6" fill="none" stroke-dasharray="2 1.5"/>
<path d="M316 120 L334 136.3 M334 120 L316 136.3" stroke="#bbb" stroke-width="0.6" fill="none" stroke-dasharray="2 1.5"/>
<rect x="342.5" y="118.8" width="7.5" height="2.4" stroke="#222" stroke-width="0.8" fill="#fff" />
<ellipse cx="346.2" cy="126.2" rx="3.1" ry="4.2" stroke="#222" stroke-width="1" fill="#fff"/>
<ellipse cx="346.2" cy="126.6" rx="1.6" ry="2.3" stroke="#666" stroke-width="0.6" fill="#ccc"/>
<path d="M315.8 169.3 C 324.5 169.3, 324.5 181, 315.8 181" stroke="#222" stroke-width="1.0" fill="#fff" />
<circle cx="319.5" cy="175.2" r="0.8" fill="#222"/>
<rect x="315.1" y="153.6" width="3" height="3" stroke="#222" stroke-width="0.8" fill="#fff" />
<rect x="352.4" y="153.6" width="3" height="3" stroke="#222" stroke-width="0.8" fill="#fff" />
<line x1="314.6" y1="155.5" x2="317.5" y2="155.5" stroke="#222" stroke-width="1" />
<line x1="353" y1="155.5" x2="357" y2="155.5" stroke="#222" stroke-width="1" />
<rect x="310.7" y="118.6" width="3" height="2.2" stroke="#222" stroke-width="0.7" fill="#fff" />
<rect x="336.1" y="118.6" width="3" height="2.2" stroke="#222" stroke-width="0.7" fill="#fff" />
<rect x="353.1" y="118.6" width="3" height="2.2" stroke="#222" stroke-width="0.7" fill="#fff" />
<rect x="269.8" y="118.4" width="3.6" height="3.6" stroke="#1a1a1a" stroke-width="0.9" fill="#fff" />
<rect x="269.8" y="197.39999999999998" width="3.6" height="3.6" stroke="#1a1a1a" stroke-width="0.9" fill="#fff" />
<rect x="269.8" y="277.0" width="3.6" height="3.6" stroke="#1a1a1a" stroke-width="0.9" fill="#fff" />
<rect x="269.8" y="357.8" width="3.6" height="3.6" stroke="#1a1a1a" stroke-width="0.9" fill="#fff" />
<rect x="269.8" y="437.59999999999997" width="3.6" height="3.6" stroke="#1a1a1a" stroke-width="0.9" fill="#fff" />
<rect x="269.8" y="517.8000000000001" width="3.6" height="3.6" stroke="#1a1a1a" stroke-width="0.9" fill="#fff" />
<rect x="269.8" y="596.7" width="3.6" height="3.6" stroke="#1a1a1a" stroke-width="0.9" fill="#fff" />
<rect x="388.4" y="118.5" width="3.6" height="3.6" stroke="#1a1a1a" stroke-width="0.9" fill="#fff" />
<rect x="388.4" y="196.7" width="3.6" height="3.6" stroke="#1a1a1a" stroke-width="0.9" fill="#fff" />
<rect x="388.4" y="276.7" width="3.6" height="3.6" stroke="#1a1a1a" stroke-width="0.9" fill="#fff" />
<rect x="388.4" y="357.2" width="3.6" height="3.6" stroke="#1a1a1a" stroke-width="0.9" fill="#fff" />
<rect x="388.4" y="437.4" width="3.6" height="3.6" stroke="#1a1a1a" stroke-width="0.9" fill="#fff" />
<rect x="388.4" y="517.8000000000001" width="3.6" height="3.6" stroke="#1a1a1a" stroke-width="0.9" fill="#fff" />
<rect x="388.4" y="596.7" width="3.6" height="3.6" stroke="#1a1a1a" stroke-width="0.9" fill="#fff" />
<rect x="508.3" y="118.5" width="4.6" height="4.6" stroke="#1a1a1a" stroke-width="0.9" fill="#fff" />
<rect x="508.3" y="236.0" width="4.6" height="4.6" stroke="#1a1a1a" stroke-width="0.9" fill="#fff" />
<rect x="508.3" y="356.9" width="4.6" height="4.6" stroke="#1a1a1a" stroke-width="0.9" fill="#fff" />
<rect x="508.3" y="477.09999999999997" width="4.6" height="4.6" stroke="#1a1a1a" stroke-width="0.9" fill="#fff" />
<rect x="508.3" y="595.5" width="4.6" height="4.6" stroke="#1a1a1a" stroke-width="0.9" fill="#fff" />
<rect x="628.5" y="118.6" width="4.4" height="4.4" stroke="#1a1a1a" stroke-width="0.9" fill="#fff" />
<rect x="628.5" y="236.10000000000002" width="4.4" height="4.4" stroke="#1a1a1a" stroke-width="0.9" fill="#fff" />
<rect x="628.5" y="356.5" width="4.4" height="4.4" stroke="#1a1a1a" stroke-width="0.9" fill="#fff" />
<rect x="628.5" y="477.5" width="4.4" height="4.4" stroke="#1a1a1a" stroke-width="0.9" fill="#fff" />
<rect x="628.5" y="595.5999999999999" width="4.4" height="4.4" stroke="#1a1a1a" stroke-width="0.9" fill="#fff" />
<rect x="747.9000000000001" y="118.4" width="3.6" height="3.6" stroke="#1a1a1a" stroke-width="0.9" fill="#fff" />
<rect x="747.9000000000001" y="196.89999999999998" width="3.6" height="3.6" stroke="#1a1a1a" stroke-width="0.9" fill="#fff" />
<rect x="747.9000000000001" y="277.0" width="3.6" height="3.6" stroke="#1a1a1a" stroke-width="0.9" fill="#fff" />
<rect x="747.9000000000001" y="356.9" width="3.6" height="3.6" stroke="#1a1a1a" stroke-width="0.9" fill="#fff" />
<rect x="747.9000000000001" y="437.9" width="3.6" height="3.6" stroke="#1a1a1a" stroke-width="0.9" fill="#fff" />
<rect x="747.9000000000001" y="517.9000000000001" width="3.6" height="3.6" stroke="#1a1a1a" stroke-width="0.9" fill="#fff" />
<rect x="747.9000000000001" y="596.9000000000001" width="3.6" height="3.6" stroke="#1a1a1a" stroke-width="0.9" fill="#fff" />
<path d="M268 119.8 H242.8 V151.9 H268" stroke="#2a2a2a" stroke-width="1.3" fill="none" />
<path d="M359.4 117 V91.5 H393.8 V117" stroke="#222" stroke-width="1.3" fill="none" />
<path d="M675 117 V91.7 H707.5 V117" stroke="#222" stroke-width="1.3" fill="none" />
<path d="M268 536.7 H236.7 V583.3 H268" stroke="#2a2a2a" stroke-width="1.2" fill="none" />
<path d="M404.2 603 V632.5 H496.7 V603" stroke="#222" stroke-width="1.3" fill="none" />
<path d="M524.2 603 V632.5 H617 V603" stroke="#222" stroke-width="1.3" fill="none" />
<path d="M645 603 V632.5 H737.5 V603" stroke="#222" stroke-width="1.3" fill="none" />
<path d="M290.3 92.4 H255.1 V112.8 H294.9" stroke="#222" stroke-width="1.4" fill="none" />
<line x1="290.3" y1="92.4" x2="294.9" y2="112.8" stroke="#999" stroke-width="0.7" />
<line x1="275.2" y1="92.4" x2="275.2" y2="112.8" stroke="#222" stroke-width="1.3" />
<line x1="280.5" y1="93" x2="280.5" y2="112.3" stroke="#999" stroke-width="0.7" />
<line x1="285.5" y1="93" x2="285.5" y2="112.3" stroke="#999" stroke-width="0.7" />
<line x1="290.5" y1="93" x2="290.5" y2="112.3" stroke="#999" stroke-width="0.7" />
<line x1="275.2" y1="102.5" x2="291" y2="102.5" stroke="#999" stroke-width="0.7" stroke-dasharray="1.5 1"/>
<path d="M289 99.8 L293 102.6 L289 105.4" stroke="#222" stroke-width="1.3" fill="none" />
<line x1="268" y1="126" x2="262.5" y2="144.4" stroke="#666" stroke-width="0.6" />
<line x1="367.5" y1="111.9" x2="386" y2="116.9" stroke="#666" stroke-width="0.6" />
<line x1="682.5" y1="110.8" x2="700.8" y2="116.3" stroke="#666" stroke-width="0.6" />
<line x1="386.3" y1="158.8" x2="393" y2="178" stroke="#666" stroke-width="0.6" />
<line x1="341" y1="150.6" x2="353.8" y2="155" stroke="#666" stroke-width="0.6" />
<line x1="318.8" y1="155.6" x2="331" y2="161.3" stroke="#666" stroke-width="0.6" />
<line x1="350.6" y1="180.5" x2="357" y2="196" stroke="#666" stroke-width="0.6" />
<line x1="350.6" y1="251.3" x2="357" y2="268.3" stroke="#666" stroke-width="0.6" />
<line x1="350.6" y1="311" x2="357" y2="330.8" stroke="#666" stroke-width="0.6" />
<line x1="386.7" y1="391.5" x2="391.3" y2="373.8" stroke="#666" stroke-width="0.6" />
<line x1="268.3" y1="550.6" x2="261.5" y2="569.4" stroke="#666" stroke-width="0.6" />
<line x1="392.5" y1="577" x2="387.5" y2="595" stroke="#666" stroke-width="0.6" />
<line x1="634" y1="442" x2="629.6" y2="460" stroke="#666" stroke-width="0.6" />
<text x="257.8" y="138.6" font-size="9.2" fill="#222" text-anchor="middle" >Д5</text>
<text x="271.9" y="181.8" font-size="9.2" fill="#222" text-anchor="start" >ОК-5</text>
<text x="375.8" y="126.1" font-size="9.2" fill="#222" text-anchor="middle" >Д2</text>
<text x="401.5" y="170.5" font-size="9.2" fill="#222" text-anchor="middle" >Д6</text>
<text x="450.8" y="128.3" font-size="9.2" fill="#222" text-anchor="middle" >ОК-1</text>
<text x="570.8" y="128.3" font-size="9.2" fill="#222" text-anchor="middle" >ОК-1</text>
<text x="654.7" y="128.0" font-size="9.2" fill="#222" text-anchor="middle" >ОК-4</text>
<text x="691.3" y="127.2" font-size="9.2" fill="#222" text-anchor="middle" >Д5</text>
<text x="730" y="128.0" font-size="9.2" fill="#222" text-anchor="middle" >ОК-4</text>
<text x="271.9" y="241.0" font-size="9.2" fill="#222" text-anchor="start" >ОК-2</text>
<text x="271.9" y="321.3" font-size="9.2" fill="#222" text-anchor="start" >ОК-2</text>
<text x="271.9" y="401.8" font-size="9.2" fill="#222" text-anchor="start" >ОК-2</text>
<text x="271.9" y="482.6" font-size="9.2" fill="#222" text-anchor="start" >ОК-2</text>
<text x="402.3" y="386.0" font-size="9.2" fill="#222" text-anchor="middle" >Д7</text>
<text x="331.9" y="596.8" font-size="9.2" fill="#222" text-anchor="middle" >ОК-3</text>
<text x="382.9" y="592.2" font-size="9.2" fill="#222" text-anchor="middle" >Д7</text>
<text x="256" y="563.0" font-size="9.2" fill="#222" text-anchor="middle" >Д1</text>
<text x="738.3" y="252.7" font-size="9.2" fill="#222" text-anchor="middle" >ОК-1</text>
<text x="738.3" y="489.7" font-size="9.2" fill="#222" text-anchor="middle" >ОК-1</text>
<text x="643.2" y="456.0" font-size="9.2" fill="#222" text-anchor="middle" >Д8</text>
<text x="446.7" y="598.8" font-size="9.2" fill="#222" text-anchor="middle" >В1</text>
<text x="567.5" y="598.8" font-size="9.2" fill="#222" text-anchor="middle" >В1</text>
<text x="688.3" y="598.8" font-size="9.2" fill="#222" text-anchor="middle" >В1</text>
<circle cx="291.3" cy="137.5" r="8.2" stroke="#555" stroke-width="0.7" fill="none"/>
<text x="291.3" y="140.8" font-size="9" fill="#222" text-anchor="middle" >6</text>
<circle cx="337.3" cy="176.3" r="8.2" stroke="#555" stroke-width="0.7" fill="none"/>
<text x="337.3" y="179.60000000000002" font-size="9" fill="#222" text-anchor="middle" >7</text>
<circle cx="375" cy="229.8" r="8.2" stroke="#555" stroke-width="0.7" fill="none"/>
<text x="375" y="233.10000000000002" font-size="9" fill="#222" text-anchor="middle" >8</text>
<circle cx="312.7" cy="240.2" r="8.2" stroke="#555" stroke-width="0.7" fill="none"/>
<text x="312.7" y="243.5" font-size="9" fill="#222" text-anchor="middle" >5</text>
<circle cx="312.7" cy="322.5" r="8.2" stroke="#555" stroke-width="0.7" fill="none"/>
<text x="312.7" y="325.8" font-size="9" fill="#222" text-anchor="middle" >4</text>
<circle cx="330.4" cy="442.1" r="8.2" stroke="#555" stroke-width="0.7" fill="none"/>
<text x="330.4" y="445.40000000000003" font-size="9" fill="#222" text-anchor="middle" >3</text>
<circle cx="288.1" cy="554.8" r="8.2" stroke="#555" stroke-width="0.7" fill="none"/>
<text x="288.1" y="558.0999999999999" font-size="9" fill="#222" text-anchor="middle" >1</text>
<circle cx="376.7" cy="557.9" r="8.2" stroke="#555" stroke-width="0.7" fill="none"/>
<text x="376.7" y="561.1999999999999" font-size="9" fill="#222" text-anchor="middle" >2</text>
<circle cx="477.3" cy="346.7" r="8.2" stroke="#555" stroke-width="0.7" fill="none"/>
<text x="477.3" y="350.0" font-size="9" fill="#222" text-anchor="middle" >9</text>
<circle cx="535.4" cy="336.5" r="8.2" stroke="#555" stroke-width="0.7" fill="none"/>
<text x="535.4" y="339.8" font-size="9" fill="#222" text-anchor="middle" >10</text>
<circle cx="709.2" cy="337" r="8.2" stroke="#555" stroke-width="0.7" fill="none"/>
<text x="709.2" y="340.3" font-size="9" fill="#222" text-anchor="middle" >11</text>
<rect x="279.4" y="151" width="23.100000000000023" height="8.400000000000006" stroke="#cfcfcf" stroke-width="0.6" fill="#fff" />
<text x="290.95" y="158.0" font-size="7.6" fill="#333" text-anchor="middle" >0.000</text>
<rect x="364" y="244" width="22" height="7.699999999999989" stroke="#cfcfcf" stroke-width="0.6" fill="#fff" />
<text x="375.0" y="250.29999999999998" font-size="7.6" fill="#333" text-anchor="middle" >0.000</text>
<rect x="276.7" y="569.4" width="22.900000000000034" height="7.600000000000023" stroke="#cfcfcf" stroke-width="0.6" fill="#fff" />
<text x="288.15" y="575.6" font-size="7.6" fill="#333" text-anchor="middle" >0.000</text>
<rect x="523.5" y="350" width="24.0" height="8.100000000000023" stroke="#cfcfcf" stroke-width="0.6" fill="#fff" />
<text x="535.5" y="356.70000000000005" font-size="7.6" fill="#333" text-anchor="middle" >0.000</text>
<rect x="364" y="530" width="23" height="7.2999999999999545" stroke="#cfcfcf" stroke-width="0.6" fill="#fff" />
<text x="375.5" y="535.9" font-size="7.6" fill="#333" text-anchor="middle" >+0.860</text>
<rect x="287.5" y="162.8" width="8.100000000000023" height="7.0" stroke="#444" stroke-width="0.7" fill="#fff" />
<path d="M290.2 165.2 L292.2 163.7 L291.1 168.3" stroke="#222" stroke-width="0.9" fill="none" />
<rect x="370.8" y="256.9" width="7.5" height="7.300000000000011" stroke="#444" stroke-width="0.7" fill="#fff" />
<path d="M373.2 259.3 L375.2 257.8 L374.1 262.7" stroke="#222" stroke-width="0.9" fill="none" />
<rect x="284.4" y="583" width="7.300000000000011" height="7.2000000000000455" stroke="#444" stroke-width="0.7" fill="#fff" />
<path d="M286.6 585.4 L288.6 583.9 L287.5 588.7" stroke="#222" stroke-width="0.9" fill="none" />
<rect x="532.3" y="363.3" width="7.5" height="7.5" stroke="#444" stroke-width="0.7" fill="#fff" />
<path d="M534.6 365.7 L536.6 364.2 L535.5 369.3" stroke="#222" stroke-width="0.9" fill="none" />
<rect x="565.8" y="346.7" width="9.2" height="23.5" stroke="#cfcfcf" stroke-width="0.6" fill="#fff" />
<text x="0" y="0" font-size="7.6" fill="#333" text-anchor="middle" transform="translate(573.2 358.5) rotate(-90)">-1.400</text>
<rect x="440.5" y="169.5" width="20.0" height="141.0" stroke="none" stroke-width="0" fill="#bdbdbd" />
<path d="M440.5 170.5 H460.5 M440.5 180.5 H460.5 M440.5 190.5 H460.5 M440.5 200.5 H460.5 M440.5 210.5 H460.5 M440.5 220.5 H460.5 M440.5 230.5 H460.5 M440.5 240.5 H460.5 M440.5 250.5 H460.5 M440.5 260.5 H460.5 M440.5 270.5 H460.5 M440.5 280.5 H460.5 M440.5 290.5 H460.5 M440.5 300.5 H460.5 " stroke="#d6d6d6" stroke-width="1" fill="none" />
<path d="M440.5 171.5 H460.5 M440.5 181.5 H460.5 M440.5 191.5 H460.5 M440.5 201.5 H460.5 M440.5 211.5 H460.5 M440.5 221.5 H460.5 M440.5 231.5 H460.5 M440.5 241.5 H460.5 M440.5 251.5 H460.5 M440.5 261.5 H460.5 M440.5 271.5 H460.5 M440.5 281.5 H460.5 M440.5 291.5 H460.5 M440.5 301.5 H460.5 " stroke="#a9a9a9" stroke-width="1" fill="none" />
<path d="M440.5 172.5 H460.5 M440.5 182.5 H460.5 M440.5 192.5 H460.5 M440.5 202.5 H460.5 M440.5 212.5 H460.5 M440.5 222.5 H460.5 M440.5 232.5 H460.5 M440.5 242.5 H460.5 M440.5 252.5 H460.5 M440.5 262.5 H460.5 M440.5 272.5 H460.5 M440.5 282.5 H460.5 M440.5 292.5 H460.5 M440.5 302.5 H460.5 " stroke="#bdbdbd" stroke-width="1" fill="none" />
<path d="M440.5 173.5 H460.5 M440.5 183.5 H460.5 M440.5 193.5 H460.5 M440.5 203.5 H460.5 M440.5 213.5 H460.5 M440.5 223.5 H460.5 M440.5 233.5 H460.5 M440.5 243.5 H460.5 M440.5 253.5 H460.5 M440.5 263.5 H460.5 M440.5 273.5 H460.5 M440.5 283.5 H460.5 M440.5 293.5 H460.5 M440.5 303.5 H460.5 " stroke="#d2d2d2" stroke-width="1" fill="none" />
<path d="M440.5 174.5 H460.5 M440.5 184.5 H460.5 M440.5 194.5 H460.5 M440.5 204.5 H460.5 M440.5 214.5 H460.5 M440.5 224.5 H460.5 M440.5 234.5 H460.5 M440.5 244.5 H460.5 M440.5 254.5 H460.5 M440.5 264.5 H460.5 M440.5 274.5 H460.5 M440.5 284.5 H460.5 M440.5 294.5 H460.5 M440.5 304.5 H460.5 " stroke="#a2a2a2" stroke-width="1" fill="none" />
<path d="M440.5 175.5 H460.5 M440.5 185.5 H460.5 M440.5 195.5 H460.5 M440.5 205.5 H460.5 M440.5 215.5 H460.5 M440.5 225.5 H460.5 M440.5 235.5 H460.5 M440.5 245.5 H460.5 M440.5 255.5 H460.5 M440.5 265.5 H460.5 M440.5 275.5 H460.5 M440.5 285.5 H460.5 M440.5 295.5 H460.5 M440.5 305.5 H460.5 " stroke="#c2c2c2" stroke-width="1" fill="none" />
<path d="M440.5 176.5 H460.5 M440.5 186.5 H460.5 M440.5 196.5 H460.5 M440.5 206.5 H460.5 M440.5 216.5 H460.5 M440.5 226.5 H460.5 M440.5 236.5 H460.5 M440.5 246.5 H460.5 M440.5 256.5 H460.5 M440.5 266.5 H460.5 M440.5 276.5 H460.5 M440.5 286.5 H460.5 M440.5 296.5 H460.5 M440.5 306.5 H460.5 " stroke="#b4b4b4" stroke-width="1" fill="none" />
<path d="M440.5 177.5 H460.5 M440.5 187.5 H460.5 M440.5 197.5 H460.5 M440.5 207.5 H460.5 M440.5 217.5 H460.5 M440.5 227.5 H460.5 M440.5 237.5 H460.5 M440.5 247.5 H460.5 M440.5 257.5 H460.5 M440.5 267.5 H460.5 M440.5 277.5 H460.5 M440.5 287.5 H460.5 M440.5 297.5 H460.5 M440.5 307.5 H460.5 " stroke="#dadada" stroke-width="1" fill="none" />
<path d="M440.5 178.5 H460.5 M440.5 188.5 H460.5 M440.5 198.5 H460.5 M440.5 208.5 H460.5 M440.5 218.5 H460.5 M440.5 228.5 H460.5 M440.5 238.5 H460.5 M440.5 248.5 H460.5 M440.5 258.5 H460.5 M440.5 268.5 H460.5 M440.5 278.5 H460.5 M440.5 288.5 H460.5 M440.5 298.5 H460.5 M440.5 308.5 H460.5 " stroke="#a6a6a6" stroke-width="1" fill="none" />
<path d="M440.5 179.5 H460.5 M440.5 189.5 H460.5 M440.5 199.5 H460.5 M440.5 209.5 H460.5 M440.5 219.5 H460.5 M440.5 229.5 H460.5 M440.5 239.5 H460.5 M440.5 249.5 H460.5 M440.5 259.5 H460.5 M440.5 269.5 H460.5 M440.5 279.5 H460.5 M440.5 289.5 H460.5 M440.5 299.5 H460.5 M440.5 309.5 H460.5 " stroke="#bababa" stroke-width="1" fill="none" />
<rect x="440.5" y="169.5" width="20.0" height="141.0" stroke="#1a1a1a" stroke-width="1.0" fill="none" />
<rect x="440.5" y="408.5" width="20.0" height="140.0" stroke="none" stroke-width="0" fill="#bdbdbd" />
<path d="M440.5 409.5 H460.5 M440.5 419.5 H460.5 M440.5 429.5 H460.5 M440.5 439.5 H460.5 M440.5 449.5 H460.5 M440.5 459.5 H460.5 M440.5 469.5 H460.5 M440.5 479.5 H460.5 M440.5 489.5 H460.5 M440.5 499.5 H460.5 M440.5 509.5 H460.5 M440.5 519.5 H460.5 M440.5 529.5 H460.5 M440.5 539.5 H460.5 " stroke="#d6d6d6" stroke-width="1" fill="none" />
<path d="M440.5 410.5 H460.5 M440.5 420.5 H460.5 M440.5 430.5 H460.5 M440.5 440.5 H460.5 M440.5 450.5 H460.5 M440.5 460.5 H460.5 M440.5 470.5 H460.5 M440.5 480.5 H460.5 M440.5 490.5 H460.5 M440.5 500.5 H460.5 M440.5 510.5 H460.5 M440.5 520.5 H460.5 M440.5 530.5 H460.5 M440.5 540.5 H460.5 " stroke="#a9a9a9" stroke-width="1" fill="none" />
<path d="M440.5 411.5 H460.5 M440.5 421.5 H460.5 M440.5 431.5 H460.5 M440.5 441.5 H460.5 M440.5 451.5 H460.5 M440.5 461.5 H460.5 M440.5 471.5 H460.5 M440.5 481.5 H460.5 M440.5 491.5 H460.5 M440.5 501.5 H460.5 M440.5 511.5 H460.5 M440.5 521.5 H460.5 M440.5 531.5 H460.5 M440.5 541.5 H460.5 " stroke="#bdbdbd" stroke-width="1" fill="none" />
<path d="M440.5 412.5 H460.5 M440.5 422.5 H460.5 M440.5 432.5 H460.5 M440.5 442.5 H460.5 M440.5 452.5 H460.5 M440.5 462.5 H460.5 M440.5 472.5 H460.5 M440.5 482.5 H460.5 M440.5 492.5 H460.5 M440.5 502.5 H460.5 M440.5 512.5 H460.5 M440.5 522.5 H460.5 M440.5 532.5 H460.5 M440.5 542.5 H460.5 " stroke="#d2d2d2" stroke-width="1" fill="none" />
<path d="M440.5 413.5 H460.5 M440.5 423.5 H460.5 M440.5 433.5 H460.5 M440.5 443.5 H460.5 M440.5 453.5 H460.5 M440.5 463.5 H460.5 M440.5 473.5 H460.5 M440.5 483.5 H460.5 M440.5 493.5 H460.5 M440.5 503.5 H460.5 M440.5 513.5 H460.5 M440.5 523.5 H460.5 M440.5 533.5 H460.5 M440.5 543.5 H460.5 " stroke="#a2a2a2" stroke-width="1" fill="none" />
<path d="M440.5 414.5 H460.5 M440.5 424.5 H460.5 M440.5 434.5 H460.5 M440.5 444.5 H460.5 M440.5 454.5 H460.5 M440.5 464.5 H460.5 M440.5 474.5 H460.5 M440.5 484.5 H460.5 M440.5 494.5 H460.5 M440.5 504.5 H460.5 M440.5 514.5 H460.5 M440.5 524.5 H460.5 M440.5 534.5 H460.5 M440.5 544.5 H460.5 " stroke="#c2c2c2" stroke-width="1" fill="none" />
<path d="M440.5 415.5 H460.5 M440.5 425.5 H460.5 M440.5 435.5 H460.5 M440.5 445.5 H460.5 M440.5 455.5 H460.5 M440.5 465.5 H460.5 M440.5 475.5 H460.5 M440.5 485.5 H460.5 M440.5 495.5 H460.5 M440.5 505.5 H460.5 M440.5 515.5 H460.5 M440.5 525.5 H460.5 M440.5 535.5 H460.5 M440.5 545.5 H460.5 " stroke="#b4b4b4" stroke-width="1" fill="none" />
<path d="M440.5 416.5 H460.5 M440.5 426.5 H460.5 M440.5 436.5 H460.5 M440.5 446.5 H460.5 M440.5 456.5 H460.5 M440.5 466.5 H460.5 M440.5 476.5 H460.5 M440.5 486.5 H460.5 M440.5 496.5 H460.5 M440.5 506.5 H460.5 M440.5 516.5 H460.5 M440.5 526.5 H460.5 M440.5 536.5 H460.5 M440.5 546.5 H460.5 " stroke="#dadada" stroke-width="1" fill="none" />
<path d="M440.5 417.5 H460.5 M440.5 427.5 H460.5 M440.5 437.5 H460.5 M440.5 447.5 H460.5 M440.5 457.5 H460.5 M440.5 467.5 H460.5 M440.5 477.5 H460.5 M440.5 487.5 H460.5 M440.5 497.5 H460.5 M440.5 507.5 H460.5 M440.5 517.5 H460.5 M440.5 527.5 H460.5 M440.5 537.5 H460.5 M440.5 547.5 H460.5 " stroke="#a6a6a6" stroke-width="1" fill="none" />
<path d="M440.5 418.5 H460.5 M440.5 428.5 H460.5 M440.5 438.5 H460.5 M440.5 448.5 H460.5 M440.5 458.5 H460.5 M440.5 468.5 H460.5 M440.5 478.5 H460.5 M440.5 488.5 H460.5 M440.5 498.5 H460.5 M440.5 508.5 H460.5 M440.5 518.5 H460.5 M440.5 528.5 H460.5 M440.5 538.5 H460.5 " stroke="#bababa" stroke-width="1" fill="none" />
<rect x="440.5" y="408.5" width="20.0" height="140.0" stroke="#1a1a1a" stroke-width="1.0" fill="none" />
<rect x="681.5" y="169.5" width="20.0" height="141.0" stroke="none" stroke-width="0" fill="#bdbdbd" />
<path d="M681.5 170.5 H701.5 M681.5 180.5 H701.5 M681.5 190.5 H701.5 M681.5 200.5 H701.5 M681.5 210.5 H701.5 M681.5 220.5 H701.5 M681.5 230.5 H701.5 M681.5 240.5 H701.5 M681.5 250.5 H701.5 M681.5 260.5 H701.5 M681.5 270.5 H701.5 M681.5 280.5 H701.5 M681.5 290.5 H701.5 M681.5 300.5 H701.5 " stroke="#d6d6d6" stroke-width="1" fill="none" />
<path d="M681.5 171.5 H701.5 M681.5 181.5 H701.5 M681.5 191.5 H701.5 M681.5 201.5 H701.5 M681.5 211.5 H701.5 M681.5 221.5 H701.5 M681.5 231.5 H701.5 M681.5 241.5 H701.5 M681.5 251.5 H701.5 M681.5 261.5 H701.5 M681.5 271.5 H701.5 M681.5 281.5 H701.5 M681.5 291.5 H701.5 M681.5 301.5 H701.5 " stroke="#a9a9a9" stroke-width="1" fill="none" />
<path d="M681.5 172.5 H701.5 M681.5 182.5 H701.5 M681.5 192.5 H701.5 M681.5 202.5 H701.5 M681.5 212.5 H701.5 M681.5 222.5 H701.5 M681.5 232.5 H701.5 M681.5 242.5 H701.5 M681.5 252.5 H701.5 M681.5 262.5 H701.5 M681.5 272.5 H701.5 M681.5 282.5 H701.5 M681.5 292.5 H701.5 M681.5 302.5 H701.5 " stroke="#bdbdbd" stroke-width="1" fill="none" />
<path d="M681.5 173.5 H701.5 M681.5 183.5 H701.5 M681.5 193.5 H701.5 M681.5 203.5 H701.5 M681.5 213.5 H701.5 M681.5 223.5 H701.5 M681.5 233.5 H701.5 M681.5 243.5 H701.5 M681.5 253.5 H701.5 M681.5 263.5 H701.5 M681.5 273.5 H701.5 M681.5 283.5 H701.5 M681.5 293.5 H701.5 M681.5 303.5 H701.5 " stroke="#d2d2d2" stroke-width="1" fill="none" />
<path d="M681.5 174.5 H701.5 M681.5 184.5 H701.5 M681.5 194.5 H701.5 M681.5 204.5 H701.5 M681.5 214.5 H701.5 M681.5 224.5 H701.5 M681.5 234.5 H701.5 M681.5 244.5 H701.5 M681.5 254.5 H701.5 M681.5 264.5 H701.5 M681.5 274.5 H701.5 M681.5 284.5 H701.5 M681.5 294.5 H701.5 M681.5 304.5 H701.5 " stroke="#a2a2a2" stroke-width="1" fill="none" />
<path d="M681.5 175.5 H701.5 M681.5 185.5 H701.5 M681.5 195.5 H701.5 M681.5 205.5 H701.5 M681.5 215.5 H701.5 M681.5 225.5 H701.5 M681.5 235.5 H701.5 M681.5 245.5 H701.5 M681.5 255.5 H701.5 M681.5 265.5 H701.5 M681.5 275.5 H701.5 M681.5 285.5 H701.5 M681.5 295.5 H701.5 M681.5 305.5 H701.5 " stroke="#c2c2c2" stroke-width="1" fill="none" />
<path d="M681.5 176.5 H701.5 M681.5 186.5 H701.5 M681.5 196.5 H701.5 M681.5 206.5 H701.5 M681.5 216.5 H701.5 M681.5 226.5 H701.5 M681.5 236.5 H701.5 M681.5 246.5 H701.5 M681.5 256.5 H701.5 M681.5 266.5 H701.5 M681.5 276.5 H701.5 M681.5 286.5 H701.5 M681.5 296.5 H701.5 M681.5 306.5 H701.5 " stroke="#b4b4b4" stroke-width="1" fill="none" />
<path d="M681.5 177.5 H701.5 M681.5 187.5 H701.5 M681.5 197.5 H701.5 M681.5 207.5 H701.5 M681.5 217.5 H701.5 M681.5 227.5 H701.5 M681.5 237.5 H701.5 M681.5 247.5 H701.5 M681.5 257.5 H701.5 M681.5 267.5 H701.5 M681.5 277.5 H701.5 M681.5 287.5 H701.5 M681.5 297.5 H701.5 M681.5 307.5 H701.5 " stroke="#dadada" stroke-width="1" fill="none" />
<path d="M681.5 178.5 H701.5 M681.5 188.5 H701.5 M681.5 198.5 H701.5 M681.5 208.5 H701.5 M681.5 218.5 H701.5 M681.5 228.5 H701.5 M681.5 238.5 H701.5 M681.5 248.5 H701.5 M681.5 258.5 H701.5 M681.5 268.5 H701.5 M681.5 278.5 H701.5 M681.5 288.5 H701.5 M681.5 298.5 H701.5 M681.5 308.5 H701.5 " stroke="#a6a6a6" stroke-width="1" fill="none" />
<path d="M681.5 179.5 H701.5 M681.5 189.5 H701.5 M681.5 199.5 H701.5 M681.5 209.5 H701.5 M681.5 219.5 H701.5 M681.5 229.5 H701.5 M681.5 239.5 H701.5 M681.5 249.5 H701.5 M681.5 259.5 H701.5 M681.5 269.5 H701.5 M681.5 279.5 H701.5 M681.5 289.5 H701.5 M681.5 299.5 H701.5 M681.5 309.5 H701.5 " stroke="#bababa" stroke-width="1" fill="none" />
<rect x="681.5" y="169.5" width="20.0" height="141.0" stroke="#1a1a1a" stroke-width="1.0" fill="none" />
<rect x="681.5" y="408.5" width="20.0" height="140.0" stroke="none" stroke-width="0" fill="#bdbdbd" />
<path d="M681.5 409.5 H701.5 M681.5 419.5 H701.5 M681.5 429.5 H701.5 M681.5 439.5 H701.5 M681.5 449.5 H701.5 M681.5 459.5 H701.5 M681.5 469.5 H701.5 M681.5 479.5 H701.5 M681.5 489.5 H701.5 M681.5 499.5 H701.5 M681.5 509.5 H701.5 M681.5 519.5 H701.5 M681.5 529.5 H701.5 M681.5 539.5 H701.5 " stroke="#d6d6d6" stroke-width="1" fill="none" />
<path d="M681.5 410.5 H701.5 M681.5 420.5 H701.5 M681.5 430.5 H701.5 M681.5 440.5 H701.5 M681.5 450.5 H701.5 M681.5 460.5 H701.5 M681.5 470.5 H701.5 M681.5 480.5 H701.5 M681.5 490.5 H701.5 M681.5 500.5 H701.5 M681.5 510.5 H701.5 M681.5 520.5 H701.5 M681.5 530.5 H701.5 M681.5 540.5 H701.5 " stroke="#a9a9a9" stroke-width="1" fill="none" />
<path d="M681.5 411.5 H701.5 M681.5 421.5 H701.5 M681.5 431.5 H701.5 M681.5 441.5 H701.5 M681.5 451.5 H701.5 M681.5 461.5 H701.5 M681.5 471.5 H701.5 M681.5 481.5 H701.5 M681.5 491.5 H701.5 M681.5 501.5 H701.5 M681.5 511.5 H701.5 M681.5 521.5 H701.5 M681.5 531.5 H701.5 M681.5 541.5 H701.5 " stroke="#bdbdbd" stroke-width="1" fill="none" />
<path d="M681.5 412.5 H701.5 M681.5 422.5 H701.5 M681.5 432.5 H701.5 M681.5 442.5 H701.5 M681.5 452.5 H701.5 M681.5 462.5 H701.5 M681.5 472.5 H701.5 M681.5 482.5 H701.5 M681.5 492.5 H701.5 M681.5 502.5 H701.5 M681.5 512.5 H701.5 M681.5 522.5 H701.5 M681.5 532.5 H701.5 M681.5 542.5 H701.5 " stroke="#d2d2d2" stroke-width="1" fill="none" />
<path d="M681.5 413.5 H701.5 M681.5 423.5 H701.5 M681.5 433.5 H701.5 M681.5 443.5 H701.5 M681.5 453.5 H701.5 M681.5 463.5 H701.5 M681.5 473.5 H701.5 M681.5 483.5 H701.5 M681.5 493.5 H701.5 M681.5 503.5 H701.5 M681.5 513.5 H701.5 M681.5 523.5 H701.5 M681.5 533.5 H701.5 M681.5 543.5 H701.5 " stroke="#a2a2a2" stroke-width="1" fill="none" />
<path d="M681.5 414.5 H701.5 M681.5 424.5 H701.5 M681.5 434.5 H701.5 M681.5 444.5 H701.5 M681.5 454.5 H701.5 M681.5 464.5 H701.5 M681.5 474.5 H701.5 M681.5 484.5 H701.5 M681.5 494.5 H701.5 M681.5 504.5 H701.5 M681.5 514.5 H701.5 M681.5 524.5 H701.5 M681.5 534.5 H701.5 M681.5 544.5 H701.5 " stroke="#c2c2c2" stroke-width="1" fill="none" />
<path d="M681.5 415.5 H701.5 M681.5 425.5 H701.5 M681.5 435.5 H701.5 M681.5 445.5 H701.5 M681.5 455.5 H701.5 M681.5 465.5 H701.5 M681.5 475.5 H701.5 M681.5 485.5 H701.5 M681.5 495.5 H701.5 M681.5 505.5 H701.5 M681.5 515.5 H701.5 M681.5 525.5 H701.5 M681.5 535.5 H701.5 M681.5 545.5 H701.5 " stroke="#b4b4b4" stroke-width="1" fill="none" />
<path d="M681.5 416.5 H701.5 M681.5 426.5 H701.5 M681.5 436.5 H701.5 M681.5 446.5 H701.5 M681.5 456.5 H701.5 M681.5 466.5 H701.5 M681.5 476.5 H701.5 M681.5 486.5 H701.5 M681.5 496.5 H701.5 M681.5 506.5 H701.5 M681.5 516.5 H701.5 M681.5 526.5 H701.5 M681.5 536.5 H701.5 M681.5 546.5 H701.5 " stroke="#dadada" stroke-width="1" fill="none" />
<path d="M681.5 417.5 H701.5 M681.5 427.5 H701.5 M681.5 437.5 H701.5 M681.5 447.5 H701.5 M681.5 457.5 H701.5 M681.5 467.5 H701.5 M681.5 477.5 H701.5 M681.5 487.5 H701.5 M681.5 497.5 H701.5 M681.5 507.5 H701.5 M681.5 517.5 H701.5 M681.5 527.5 H701.5 M681.5 537.5 H701.5 M681.5 547.5 H701.5 " stroke="#a6a6a6" stroke-width="1" fill="none" />
<path d="M681.5 418.5 H701.5 M681.5 428.5 H701.5 M681.5 438.5 H701.5 M681.5 448.5 H701.5 M681.5 458.5 H701.5 M681.5 468.5 H701.5 M681.5 478.5 H701.5 M681.5 488.5 H701.5 M681.5 498.5 H701.5 M681.5 508.5 H701.5 M681.5 518.5 H701.5 M681.5 528.5 H701.5 M681.5 538.5 H701.5 " stroke="#bababa" stroke-width="1" fill="none" />
<rect x="681.5" y="408.5" width="20.0" height="140.0" stroke="#1a1a1a" stroke-width="1.0" fill="none" />
<rect x="554.8" y="152.5" width="32.2" height="413.8" stroke="#222" stroke-width="1.2" fill="none" />
<rect x="560.4" y="158.3" width="20.9" height="402.3" stroke="#222" stroke-width="1.2" fill="none" />
<path d="M560.9 162.2 H580.8 M560.9 166.2 H580.8 M560.9 170.3 H580.8 M560.9 174.3 H580.8 M560.9 178.3 H580.8 M560.9 182.3 H580.8 M560.9 186.4 H580.8 M560.9 536.4 H580.8 M560.9 540.4 H580.8 M560.9 544.4 H580.8 M560.9 548.4 H580.8 M560.9 552.4 H580.8 M560.9 556.4 H580.8 " stroke="#555" stroke-width="0.8" fill="none" />
<line x1="560.9" y1="532.5" x2="580.8" y2="532.5" stroke="#bbb" stroke-width="0.8" />
<line x1="570.5" y1="160" x2="570.5" y2="186.4" stroke="#aaa" stroke-width="0.8" stroke-dasharray="1.2 0.8"/>
<path d="M568.3 161.8 L570.8 158.9 L573.3 161.8" stroke="#222" stroke-width="0.9" fill="none" />
<line x1="570.5" y1="532" x2="570.5" y2="559" stroke="#aaa" stroke-width="0.8" stroke-dasharray="1.2 0.8"/>
<path d="M568.3 557.2 L570.8 560.2 L573.3 557.2" stroke="#222" stroke-width="0.9" fill="none" />
<circle cx="570.8" cy="186.4" r="0.8" fill="#555"/>
<circle cx="570.8" cy="532.1" r="0.8" fill="#555"/>
<line x1="508.5" y1="126" x2="508.5" y2="600" stroke="#bbb" stroke-width="1.0" stroke-dasharray="8 6"/>
<line x1="394" y1="359.5" x2="507" y2="359.5" stroke="#8a8a8a" stroke-width="1.0" stroke-dasharray="7.5 10.5"/>
<line x1="636" y1="359.5" x2="751" y2="359.5" stroke="#8a8a8a" stroke-width="1.0" stroke-dasharray="7.5 10.5"/>
<line x1="394" y1="118.8" x2="440.2" y2="169.5" stroke="#707070" stroke-width="0.7" stroke-dasharray="7 9.5"/>
<line x1="508.2" y1="124" x2="460.4" y2="169.5" stroke="#707070" stroke-width="0.7" stroke-dasharray="7 9.5"/>
<line x1="394" y1="359.2" x2="440.2" y2="310.2" stroke="#707070" stroke-width="0.7" stroke-dasharray="7 9.5"/>
<line x1="508.2" y1="359.2" x2="460.4" y2="310.2" stroke="#707070" stroke-width="0.7" stroke-dasharray="7 9.5"/>
<line x1="394" y1="359.2" x2="440.2" y2="407.9" stroke="#707070" stroke-width="0.7" stroke-dasharray="7 9.5"/>
<line x1="508.2" y1="359.2" x2="460.4" y2="407.9" stroke="#707070" stroke-width="0.7" stroke-dasharray="7 9.5"/>
<line x1="394" y1="600" x2="440.2" y2="548.7" stroke="#707070" stroke-width="0.7" stroke-dasharray="7 9.5"/>
<line x1="508.2" y1="600" x2="460.4" y2="548.7" stroke="#707070" stroke-width="0.7" stroke-dasharray="7 9.5"/>
<line x1="636" y1="118.8" x2="681.3" y2="169.5" stroke="#707070" stroke-width="0.7" stroke-dasharray="7 9.5"/>
<line x1="751.5" y1="124" x2="701.3" y2="169.5" stroke="#707070" stroke-width="0.7" stroke-dasharray="7 9.5"/>
<line x1="636" y1="359.2" x2="681.3" y2="310.2" stroke="#707070" stroke-width="0.7" stroke-dasharray="7 9.5"/>
<line x1="751.5" y1="359.2" x2="701.3" y2="310.2" stroke="#707070" stroke-width="0.7" stroke-dasharray="7 9.5"/>
<line x1="636" y1="359.2" x2="681.3" y2="407.9" stroke="#707070" stroke-width="0.7" stroke-dasharray="7 9.5"/>
<line x1="751.5" y1="359.2" x2="701.3" y2="407.9" stroke="#707070" stroke-width="0.7" stroke-dasharray="7 9.5"/>
<line x1="636" y1="600" x2="681.3" y2="548.7" stroke="#707070" stroke-width="0.7" stroke-dasharray="7 9.5"/>
<line x1="751.5" y1="600" x2="701.3" y2="548.7" stroke="#707070" stroke-width="0.7" stroke-dasharray="7 9.5"/>
<text x="0" y="0" font-size="8.4" fill="#333" text-anchor="middle" textLength="19.5" lengthAdjust="spacingAndGlyphs" transform="translate(448.6 148.6) rotate(-90)">i=0,02</text>
<line x1="450.5" y1="137" x2="450.5" y2="162" stroke="#777" stroke-width="0.6" />
<path d="M449.3 158.5 L450.5 162 L451.7 158.5 Z" stroke="#222" stroke-width="0.5" fill="#222" />
<text x="0" y="0" font-size="8.4" fill="#333" text-anchor="middle" textLength="19.5" lengthAdjust="spacingAndGlyphs" transform="translate(447.6 335.6) rotate(-90)">i=0,02</text>
<line x1="450.5" y1="345" x2="450.5" y2="321.3" stroke="#777" stroke-width="0.6" />
<path d="M448.8 324.8 L450 321.3 L451.2 324.8 Z" stroke="#222" stroke-width="0.5" fill="#222" />
<text x="0" y="0" font-size="8.4" fill="#333" text-anchor="middle" textLength="19.5" lengthAdjust="spacingAndGlyphs" transform="translate(447.6 386.6) rotate(-90)">i=0,02</text>
<line x1="450.5" y1="375.4" x2="450.5" y2="400.4" stroke="#777" stroke-width="0.6" />
<path d="M448.8 396.9 L450 400.4 L451.2 396.9 Z" stroke="#222" stroke-width="0.5" fill="#222" />
<text x="0" y="0" font-size="8.4" fill="#333" text-anchor="middle" textLength="19.5" lengthAdjust="spacingAndGlyphs" transform="translate(447.6 575.0) rotate(-90)">i=0,02</text>
<line x1="449.5" y1="583.3" x2="449.5" y2="559.2" stroke="#777" stroke-width="0.6" />
<path d="M448.6 562.7 L449.8 559.2 L451.0 562.7 Z" stroke="#222" stroke-width="0.5" fill="#222" />
<text x="407.5" y="238.8" font-size="8.4" fill="#333" text-anchor="start" textLength="19.19999999999999" lengthAdjust="spacingAndGlyphs" >i=0,02</text>
<line x1="407" y1="241.5" x2="432" y2="241.5" stroke="#777" stroke-width="0.6" />
<path d="M428.5 240.3 L432 241.5 L428.5 242.7 Z" stroke="#222" stroke-width="0.5" fill="#222" />
<text x="476" y="238.8" font-size="8.4" fill="#333" text-anchor="start" textLength="19.399999999999977" lengthAdjust="spacingAndGlyphs" >i=0,02</text>
<line x1="495.5" y1="241.5" x2="471.5" y2="241.5" stroke="#777" stroke-width="0.6" />
<path d="M475.0 240.3 L471.5 241.5 L475.0 242.7 Z" stroke="#222" stroke-width="0.5" fill="#222" />
<text x="407.5" y="475" font-size="8.4" fill="#333" text-anchor="start" textLength="19.19999999999999" lengthAdjust="spacingAndGlyphs" >i=0,02</text>
<line x1="407" y1="477.5" x2="432" y2="477.5" stroke="#777" stroke-width="0.6" />
<path d="M428.5 476.5 L432 477.7 L428.5 478.9 Z" stroke="#222" stroke-width="0.5" fill="#222" />
<text x="476" y="475" font-size="8.4" fill="#333" text-anchor="start" textLength="19.399999999999977" lengthAdjust="spacingAndGlyphs" >i=0,02</text>
<line x1="495.5" y1="477.5" x2="471.5" y2="477.5" stroke="#777" stroke-width="0.6" />
<path d="M475.0 476.5 L471.5 477.7 L475.0 478.9 Z" stroke="#222" stroke-width="0.5" fill="#222" />
<text x="0" y="0" font-size="8.4" fill="#333" text-anchor="middle" textLength="19.5" lengthAdjust="spacingAndGlyphs" transform="translate(689.8 148.6) rotate(-90)">i=0,02</text>
<line x1="691.5" y1="137" x2="691.5" y2="162" stroke="#777" stroke-width="0.6" />
<path d="M690.5 158.5 L691.7 162 L692.9000000000001 158.5 Z" stroke="#222" stroke-width="0.5" fill="#222" />
<text x="0" y="0" font-size="8.4" fill="#333" text-anchor="middle" textLength="19.5" lengthAdjust="spacingAndGlyphs" transform="translate(688.8 335.6) rotate(-90)">i=0,02</text>
<line x1="691.5" y1="345" x2="691.5" y2="321.3" stroke="#777" stroke-width="0.6" />
<path d="M690.0 324.8 L691.2 321.3 L692.4000000000001 324.8 Z" stroke="#222" stroke-width="0.5" fill="#222" />
<text x="0" y="0" font-size="8.4" fill="#333" text-anchor="middle" textLength="19.5" lengthAdjust="spacingAndGlyphs" transform="translate(688.8 386.6) rotate(-90)">i=0,02</text>
<line x1="691.5" y1="375.4" x2="691.5" y2="400.4" stroke="#777" stroke-width="0.6" />
<path d="M690.0 396.9 L691.2 400.4 L692.4000000000001 396.9 Z" stroke="#222" stroke-width="0.5" fill="#222" />
<text x="0" y="0" font-size="8.4" fill="#333" text-anchor="middle" textLength="19.5" lengthAdjust="spacingAndGlyphs" transform="translate(688.8 575.0) rotate(-90)">i=0,02</text>
<line x1="690.5" y1="583.3" x2="690.5" y2="559.2" stroke="#777" stroke-width="0.6" />
<path d="M689.8 562.7 L691.0 559.2 L692.2 562.7 Z" stroke="#222" stroke-width="0.5" fill="#222" />
<text x="648.7" y="238.8" font-size="8.4" fill="#333" text-anchor="start" textLength="19.199999999999932" lengthAdjust="spacingAndGlyphs" >i=0,02</text>
<line x1="648.2" y1="241.5" x2="673.2" y2="241.5" stroke="#777" stroke-width="0.6" />
<path d="M669.7 240.3 L673.2 241.5 L669.7 242.7 Z" stroke="#222" stroke-width="0.5" fill="#222" />
<text x="717.2" y="238.8" font-size="8.4" fill="#333" text-anchor="start" textLength="19.399999999999864" lengthAdjust="spacingAndGlyphs" >i=0,02</text>
<line x1="736.7" y1="241.5" x2="712.7" y2="241.5" stroke="#777" stroke-width="0.6" />
<path d="M716.2 240.3 L712.7 241.5 L716.2 242.7 Z" stroke="#222" stroke-width="0.5" fill="#222" />
<text x="648.7" y="475" font-size="8.4" fill="#333" text-anchor="start" textLength="19.199999999999932" lengthAdjust="spacingAndGlyphs" >i=0,02</text>
<line x1="648.2" y1="477.5" x2="673.2" y2="477.5" stroke="#777" stroke-width="0.6" />
<path d="M669.7 476.5 L673.2 477.7 L669.7 478.9 Z" stroke="#222" stroke-width="0.5" fill="#222" />
<text x="717.2" y="475" font-size="8.4" fill="#333" text-anchor="start" textLength="19.399999999999864" lengthAdjust="spacingAndGlyphs" >i=0,02</text>
<line x1="736.7" y1="477.5" x2="712.7" y2="477.5" stroke="#777" stroke-width="0.6" />
<path d="M716.2 476.5 L712.7 477.7 L716.2 478.9 Z" stroke="#222" stroke-width="0.5" fill="#222" />
</svg></body></html>
